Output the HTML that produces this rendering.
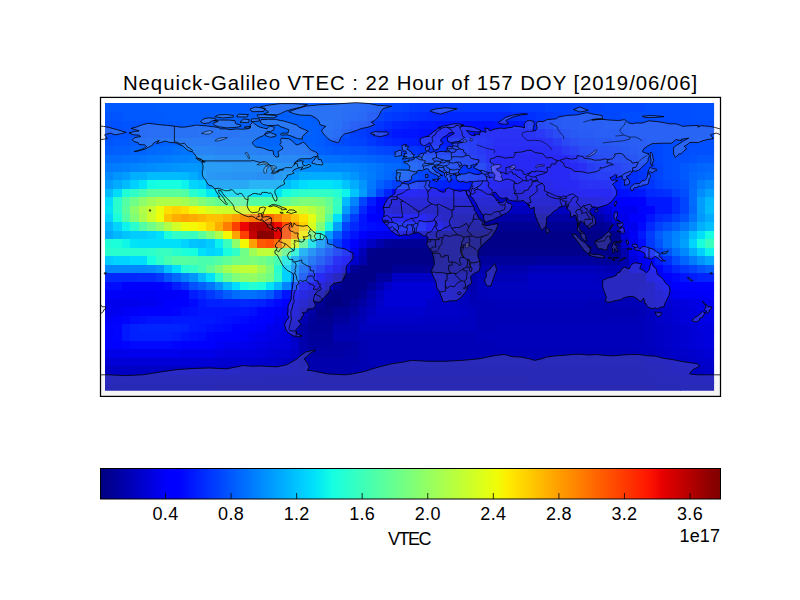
<!DOCTYPE html>
<html><head><meta charset="utf-8"><title>Nequick-Galileo VTEC</title>
<style>
html,body{margin:0;padding:0;background:#fff;}
body{width:800px;height:600px;position:relative;overflow:hidden;font-family:"Liberation Sans",sans-serif;color:#000;}
svg{position:absolute;left:0;top:0;}
.t{position:absolute;white-space:nowrap;line-height:1;}
.title{left:0;width:821px;top:73.3px;text-align:center;font-size:20.4px;letter-spacing:0.94px;}
.tick{width:60px;text-align:center;top:504.9px;font-size:18px;letter-spacing:0.3px;}
.lab{left:379px;width:60px;text-align:center;top:529.7px;font-size:18px;letter-spacing:-1.5px;}
.exp{left:640px;width:80px;text-align:right;top:526.7px;font-size:18px;letter-spacing:0.1px;}
</style></head><body>
<svg width="800" height="600" viewBox="0 0 800 600">
<defs><linearGradient id="jet" x1="0" x2="1" y1="0" y2="0"><stop offset="0.0000" stop-color="#000080"/><stop offset="0.0156" stop-color="#000092"/><stop offset="0.0312" stop-color="#0000a4"/><stop offset="0.0469" stop-color="#0000b6"/><stop offset="0.0625" stop-color="#0000c8"/><stop offset="0.0781" stop-color="#0000da"/><stop offset="0.0938" stop-color="#0000ed"/><stop offset="0.1094" stop-color="#0000ff"/><stop offset="0.1250" stop-color="#0000ff"/><stop offset="0.1406" stop-color="#0010ff"/><stop offset="0.1562" stop-color="#0020ff"/><stop offset="0.1719" stop-color="#0030ff"/><stop offset="0.1875" stop-color="#0040ff"/><stop offset="0.2031" stop-color="#0050ff"/><stop offset="0.2188" stop-color="#0060ff"/><stop offset="0.2344" stop-color="#0070ff"/><stop offset="0.2500" stop-color="#0080ff"/><stop offset="0.2656" stop-color="#0090ff"/><stop offset="0.2812" stop-color="#00a0ff"/><stop offset="0.2969" stop-color="#00b0ff"/><stop offset="0.3125" stop-color="#00c0ff"/><stop offset="0.3281" stop-color="#00d0ff"/><stop offset="0.3438" stop-color="#00e0fb"/><stop offset="0.3594" stop-color="#09f0ee"/><stop offset="0.3750" stop-color="#16ffe1"/><stop offset="0.3906" stop-color="#23ffd4"/><stop offset="0.4062" stop-color="#30ffc7"/><stop offset="0.4219" stop-color="#3cffba"/><stop offset="0.4375" stop-color="#49ffad"/><stop offset="0.4531" stop-color="#56ffa0"/><stop offset="0.4688" stop-color="#63ff94"/><stop offset="0.4844" stop-color="#70ff87"/><stop offset="0.5000" stop-color="#7dff7a"/><stop offset="0.5156" stop-color="#8aff6d"/><stop offset="0.5312" stop-color="#97ff60"/><stop offset="0.5469" stop-color="#a4ff53"/><stop offset="0.5625" stop-color="#b1ff46"/><stop offset="0.5781" stop-color="#beff39"/><stop offset="0.5938" stop-color="#caff2c"/><stop offset="0.6094" stop-color="#d7ff1f"/><stop offset="0.6250" stop-color="#e4ff13"/><stop offset="0.6406" stop-color="#f1fc06"/><stop offset="0.6562" stop-color="#feed00"/><stop offset="0.6719" stop-color="#ffde00"/><stop offset="0.6875" stop-color="#ffd000"/><stop offset="0.7031" stop-color="#ffc100"/><stop offset="0.7188" stop-color="#ffb200"/><stop offset="0.7344" stop-color="#ffa300"/><stop offset="0.7500" stop-color="#ff9400"/><stop offset="0.7656" stop-color="#ff8600"/><stop offset="0.7812" stop-color="#ff7700"/><stop offset="0.7969" stop-color="#ff6800"/><stop offset="0.8125" stop-color="#ff5900"/><stop offset="0.8281" stop-color="#ff4a00"/><stop offset="0.8438" stop-color="#ff3b00"/><stop offset="0.8594" stop-color="#ff2d00"/><stop offset="0.8750" stop-color="#ff1e00"/><stop offset="0.8906" stop-color="#fa0f00"/><stop offset="0.9062" stop-color="#e80000"/><stop offset="0.9219" stop-color="#d60000"/><stop offset="0.9375" stop-color="#c40000"/><stop offset="0.9531" stop-color="#b20000"/><stop offset="0.9688" stop-color="#9f0000"/><stop offset="0.9844" stop-color="#8d0000"/><stop offset="1.0000" stop-color="#800000"/></linearGradient>
<clipPath id="ax"><rect x="100.5" y="97.25" width="620" height="299"/></clipPath>
<clipPath id="hm"><rect x="105" y="102.9" width="609.1" height="287.85"/></clipPath>
</defs>
<rect x="0" y="0" width="800" height="600" fill="#fff"/>
<g shape-rendering="crispEdges" clip-path="url(#hm)">
<rect x="105.00" y="102.90" width="51.06" height="10.06" fill="#0058ff"/>
<rect x="155.56" y="102.90" width="186.62" height="10.06" fill="#005cff"/>
<rect x="341.68" y="102.90" width="17.42" height="10.06" fill="#0058ff"/>
<rect x="358.60" y="102.90" width="8.96" height="10.06" fill="#0054ff"/>
<rect x="367.06" y="102.90" width="8.96" height="10.06" fill="#0050ff"/>
<rect x="375.52" y="102.90" width="8.96" height="10.06" fill="#004cff"/>
<rect x="383.98" y="102.90" width="8.96" height="10.06" fill="#0048ff"/>
<rect x="392.44" y="102.90" width="8.96" height="10.06" fill="#0044ff"/>
<rect x="400.90" y="102.90" width="8.96" height="10.06" fill="#0040ff"/>
<rect x="409.36" y="102.90" width="8.96" height="10.06" fill="#003cff"/>
<rect x="417.82" y="102.90" width="93.56" height="10.06" fill="#0038ff"/>
<rect x="510.88" y="102.90" width="34.34" height="10.06" fill="#003cff"/>
<rect x="544.72" y="102.90" width="25.88" height="10.06" fill="#0040ff"/>
<rect x="570.10" y="102.90" width="34.34" height="10.06" fill="#0044ff"/>
<rect x="603.94" y="102.90" width="42.80" height="10.06" fill="#0048ff"/>
<rect x="646.24" y="102.90" width="42.80" height="10.06" fill="#004cff"/>
<rect x="688.54" y="102.90" width="25.96" height="10.06" fill="#0050ff"/>
<rect x="105.00" y="112.46" width="17.22" height="8.96" fill="#0054ff"/>
<rect x="121.72" y="112.46" width="42.80" height="8.96" fill="#0058ff"/>
<rect x="164.02" y="112.46" width="51.26" height="8.96" fill="#005cff"/>
<rect x="214.78" y="112.46" width="51.26" height="8.96" fill="#0060ff"/>
<rect x="265.54" y="112.46" width="8.96" height="8.96" fill="#0064ff"/>
<rect x="274.00" y="112.46" width="34.34" height="8.96" fill="#0060ff"/>
<rect x="307.84" y="112.46" width="34.34" height="8.96" fill="#005cff"/>
<rect x="341.68" y="112.46" width="8.96" height="8.96" fill="#0058ff"/>
<rect x="350.14" y="112.46" width="8.96" height="8.96" fill="#0054ff"/>
<rect x="358.60" y="112.46" width="8.96" height="8.96" fill="#0050ff"/>
<rect x="367.06" y="112.46" width="8.96" height="8.96" fill="#0048ff"/>
<rect x="375.52" y="112.46" width="8.96" height="8.96" fill="#0044ff"/>
<rect x="383.98" y="112.46" width="8.96" height="8.96" fill="#003cff"/>
<rect x="392.44" y="112.46" width="8.96" height="8.96" fill="#0038ff"/>
<rect x="400.90" y="112.46" width="8.96" height="8.96" fill="#0034ff"/>
<rect x="409.36" y="112.46" width="8.96" height="8.96" fill="#0030ff"/>
<rect x="417.82" y="112.46" width="8.96" height="8.96" fill="#002cff"/>
<rect x="426.28" y="112.46" width="85.10" height="8.96" fill="#0028ff"/>
<rect x="510.88" y="112.46" width="17.42" height="8.96" fill="#002cff"/>
<rect x="527.80" y="112.46" width="8.96" height="8.96" fill="#0030ff"/>
<rect x="536.26" y="112.46" width="8.96" height="8.96" fill="#0034ff"/>
<rect x="544.72" y="112.46" width="8.96" height="8.96" fill="#0038ff"/>
<rect x="553.18" y="112.46" width="8.96" height="8.96" fill="#003cff"/>
<rect x="561.64" y="112.46" width="17.42" height="8.96" fill="#0040ff"/>
<rect x="578.56" y="112.46" width="17.42" height="8.96" fill="#0044ff"/>
<rect x="595.48" y="112.46" width="25.88" height="8.96" fill="#0048ff"/>
<rect x="620.86" y="112.46" width="68.18" height="8.96" fill="#004cff"/>
<rect x="688.54" y="112.46" width="25.96" height="8.96" fill="#0050ff"/>
<rect x="105.00" y="120.92" width="17.22" height="8.96" fill="#0050ff"/>
<rect x="121.72" y="120.92" width="34.34" height="8.96" fill="#0054ff"/>
<rect x="155.56" y="120.92" width="25.88" height="8.96" fill="#0058ff"/>
<rect x="180.94" y="120.92" width="34.34" height="8.96" fill="#005cff"/>
<rect x="214.78" y="120.92" width="34.34" height="8.96" fill="#0060ff"/>
<rect x="248.62" y="120.92" width="42.80" height="8.96" fill="#0064ff"/>
<rect x="290.92" y="120.92" width="42.80" height="8.96" fill="#0060ff"/>
<rect x="333.22" y="120.92" width="8.96" height="8.96" fill="#005cff"/>
<rect x="341.68" y="120.92" width="8.96" height="8.96" fill="#0050ff"/>
<rect x="350.14" y="120.92" width="8.96" height="8.96" fill="#0048ff"/>
<rect x="358.60" y="120.92" width="8.96" height="8.96" fill="#0044ff"/>
<rect x="367.06" y="120.92" width="8.96" height="8.96" fill="#003cff"/>
<rect x="375.52" y="120.92" width="8.96" height="8.96" fill="#0034ff"/>
<rect x="383.98" y="120.92" width="8.96" height="8.96" fill="#002cff"/>
<rect x="392.44" y="120.92" width="8.96" height="8.96" fill="#0024ff"/>
<rect x="400.90" y="120.92" width="8.96" height="8.96" fill="#0020ff"/>
<rect x="409.36" y="120.92" width="8.96" height="8.96" fill="#001cff"/>
<rect x="417.82" y="120.92" width="17.42" height="8.96" fill="#0018ff"/>
<rect x="434.74" y="120.92" width="25.88" height="8.96" fill="#0014ff"/>
<rect x="460.12" y="120.92" width="34.34" height="8.96" fill="#0010ff"/>
<rect x="493.96" y="120.92" width="25.88" height="8.96" fill="#0014ff"/>
<rect x="519.34" y="120.92" width="8.96" height="8.96" fill="#0018ff"/>
<rect x="527.80" y="120.92" width="8.96" height="8.96" fill="#0020ff"/>
<rect x="536.26" y="120.92" width="8.96" height="8.96" fill="#002cff"/>
<rect x="544.72" y="120.92" width="8.96" height="8.96" fill="#0034ff"/>
<rect x="553.18" y="120.92" width="8.96" height="8.96" fill="#003cff"/>
<rect x="561.64" y="120.92" width="17.42" height="8.96" fill="#0040ff"/>
<rect x="578.56" y="120.92" width="25.88" height="8.96" fill="#0044ff"/>
<rect x="603.94" y="120.92" width="76.64" height="8.96" fill="#0048ff"/>
<rect x="680.08" y="120.92" width="34.42" height="8.96" fill="#004cff"/>
<rect x="105.00" y="129.38" width="8.76" height="8.96" fill="#0050ff"/>
<rect x="113.26" y="129.38" width="34.34" height="8.96" fill="#0054ff"/>
<rect x="147.10" y="129.38" width="25.88" height="8.96" fill="#0058ff"/>
<rect x="172.48" y="129.38" width="25.88" height="8.96" fill="#005cff"/>
<rect x="197.86" y="129.38" width="42.80" height="8.96" fill="#0060ff"/>
<rect x="240.16" y="129.38" width="51.26" height="8.96" fill="#0064ff"/>
<rect x="290.92" y="129.38" width="25.88" height="8.96" fill="#0060ff"/>
<rect x="316.30" y="129.38" width="17.42" height="8.96" fill="#005cff"/>
<rect x="333.22" y="129.38" width="8.96" height="8.96" fill="#0054ff"/>
<rect x="341.68" y="129.38" width="8.96" height="8.96" fill="#004cff"/>
<rect x="350.14" y="129.38" width="8.96" height="8.96" fill="#0040ff"/>
<rect x="358.60" y="129.38" width="8.96" height="8.96" fill="#003cff"/>
<rect x="367.06" y="129.38" width="8.96" height="8.96" fill="#0034ff"/>
<rect x="375.52" y="129.38" width="8.96" height="8.96" fill="#002cff"/>
<rect x="383.98" y="129.38" width="8.96" height="8.96" fill="#0020ff"/>
<rect x="392.44" y="129.38" width="8.96" height="8.96" fill="#0018ff"/>
<rect x="400.90" y="129.38" width="17.42" height="8.96" fill="#0014ff"/>
<rect x="417.82" y="129.38" width="17.42" height="8.96" fill="#0010ff"/>
<rect x="434.74" y="129.38" width="17.42" height="8.96" fill="#000cff"/>
<rect x="451.66" y="129.38" width="34.34" height="8.96" fill="#0010ff"/>
<rect x="485.50" y="129.38" width="42.80" height="8.96" fill="#000cff"/>
<rect x="527.80" y="129.38" width="8.96" height="8.96" fill="#0010ff"/>
<rect x="536.26" y="129.38" width="8.96" height="8.96" fill="#0014ff"/>
<rect x="544.72" y="129.38" width="8.96" height="8.96" fill="#0020ff"/>
<rect x="553.18" y="129.38" width="8.96" height="8.96" fill="#002cff"/>
<rect x="561.64" y="129.38" width="8.96" height="8.96" fill="#0038ff"/>
<rect x="570.10" y="129.38" width="8.96" height="8.96" fill="#003cff"/>
<rect x="578.56" y="129.38" width="17.42" height="8.96" fill="#0040ff"/>
<rect x="595.48" y="129.38" width="34.34" height="8.96" fill="#0044ff"/>
<rect x="629.32" y="129.38" width="51.26" height="8.96" fill="#0048ff"/>
<rect x="680.08" y="129.38" width="34.42" height="8.96" fill="#004cff"/>
<rect x="105.00" y="137.84" width="8.76" height="8.96" fill="#0054ff"/>
<rect x="113.26" y="137.84" width="17.42" height="8.96" fill="#0058ff"/>
<rect x="130.18" y="137.84" width="17.42" height="8.96" fill="#005cff"/>
<rect x="147.10" y="137.84" width="17.42" height="8.96" fill="#0060ff"/>
<rect x="164.02" y="137.84" width="17.42" height="8.96" fill="#0064ff"/>
<rect x="180.94" y="137.84" width="76.64" height="8.96" fill="#0068ff"/>
<rect x="257.08" y="137.84" width="42.80" height="8.96" fill="#0064ff"/>
<rect x="299.38" y="137.84" width="17.42" height="8.96" fill="#0060ff"/>
<rect x="316.30" y="137.84" width="8.96" height="8.96" fill="#005cff"/>
<rect x="324.76" y="137.84" width="8.96" height="8.96" fill="#0054ff"/>
<rect x="333.22" y="137.84" width="8.96" height="8.96" fill="#004cff"/>
<rect x="341.68" y="137.84" width="8.96" height="8.96" fill="#0048ff"/>
<rect x="350.14" y="137.84" width="8.96" height="8.96" fill="#0044ff"/>
<rect x="358.60" y="137.84" width="8.96" height="8.96" fill="#0040ff"/>
<rect x="367.06" y="137.84" width="8.96" height="8.96" fill="#0038ff"/>
<rect x="375.52" y="137.84" width="8.96" height="8.96" fill="#0030ff"/>
<rect x="383.98" y="137.84" width="8.96" height="8.96" fill="#0028ff"/>
<rect x="392.44" y="137.84" width="8.96" height="8.96" fill="#0024ff"/>
<rect x="400.90" y="137.84" width="8.96" height="8.96" fill="#0020ff"/>
<rect x="409.36" y="137.84" width="8.96" height="8.96" fill="#001cff"/>
<rect x="417.82" y="137.84" width="25.88" height="8.96" fill="#0018ff"/>
<rect x="443.20" y="137.84" width="8.96" height="8.96" fill="#001cff"/>
<rect x="451.66" y="137.84" width="17.42" height="8.96" fill="#0020ff"/>
<rect x="468.58" y="137.84" width="8.96" height="8.96" fill="#001cff"/>
<rect x="477.04" y="137.84" width="8.96" height="8.96" fill="#0014ff"/>
<rect x="485.50" y="137.84" width="8.96" height="8.96" fill="#0010ff"/>
<rect x="493.96" y="137.84" width="51.26" height="8.96" fill="#0008ff"/>
<rect x="544.72" y="137.84" width="8.96" height="8.96" fill="#000cff"/>
<rect x="553.18" y="137.84" width="8.96" height="8.96" fill="#0018ff"/>
<rect x="561.64" y="137.84" width="8.96" height="8.96" fill="#0028ff"/>
<rect x="570.10" y="137.84" width="8.96" height="8.96" fill="#0030ff"/>
<rect x="578.56" y="137.84" width="17.42" height="8.96" fill="#0038ff"/>
<rect x="595.48" y="137.84" width="17.42" height="8.96" fill="#003cff"/>
<rect x="612.40" y="137.84" width="17.42" height="8.96" fill="#0040ff"/>
<rect x="629.32" y="137.84" width="17.42" height="8.96" fill="#0044ff"/>
<rect x="646.24" y="137.84" width="17.42" height="8.96" fill="#0048ff"/>
<rect x="663.16" y="137.84" width="34.34" height="8.96" fill="#004cff"/>
<rect x="697.00" y="137.84" width="17.50" height="8.96" fill="#0050ff"/>
<rect x="105.00" y="146.30" width="8.76" height="8.96" fill="#005cff"/>
<rect x="113.26" y="146.30" width="17.42" height="8.96" fill="#0060ff"/>
<rect x="130.18" y="146.30" width="17.42" height="8.96" fill="#0064ff"/>
<rect x="147.10" y="146.30" width="8.96" height="8.96" fill="#0068ff"/>
<rect x="155.56" y="146.30" width="17.42" height="8.96" fill="#006cff"/>
<rect x="172.48" y="146.30" width="8.96" height="8.96" fill="#0070ff"/>
<rect x="180.94" y="146.30" width="34.34" height="8.96" fill="#0074ff"/>
<rect x="214.78" y="146.30" width="42.80" height="8.96" fill="#0070ff"/>
<rect x="257.08" y="146.30" width="25.88" height="8.96" fill="#006cff"/>
<rect x="282.46" y="146.30" width="25.88" height="8.96" fill="#0068ff"/>
<rect x="307.84" y="146.30" width="8.96" height="8.96" fill="#0064ff"/>
<rect x="316.30" y="146.30" width="8.96" height="8.96" fill="#0060ff"/>
<rect x="324.76" y="146.30" width="8.96" height="8.96" fill="#005cff"/>
<rect x="333.22" y="146.30" width="17.42" height="8.96" fill="#0058ff"/>
<rect x="350.14" y="146.30" width="17.42" height="8.96" fill="#0054ff"/>
<rect x="367.06" y="146.30" width="8.96" height="8.96" fill="#004cff"/>
<rect x="375.52" y="146.30" width="8.96" height="8.96" fill="#0048ff"/>
<rect x="383.98" y="146.30" width="8.96" height="8.96" fill="#0044ff"/>
<rect x="392.44" y="146.30" width="8.96" height="8.96" fill="#0040ff"/>
<rect x="400.90" y="146.30" width="8.96" height="8.96" fill="#003cff"/>
<rect x="409.36" y="146.30" width="8.96" height="8.96" fill="#0034ff"/>
<rect x="417.82" y="146.30" width="8.96" height="8.96" fill="#0030ff"/>
<rect x="426.28" y="146.30" width="8.96" height="8.96" fill="#002cff"/>
<rect x="434.74" y="146.30" width="25.88" height="8.96" fill="#0028ff"/>
<rect x="460.12" y="146.30" width="8.96" height="8.96" fill="#0024ff"/>
<rect x="468.58" y="146.30" width="8.96" height="8.96" fill="#001cff"/>
<rect x="477.04" y="146.30" width="8.96" height="8.96" fill="#0014ff"/>
<rect x="485.50" y="146.30" width="8.96" height="8.96" fill="#000cff"/>
<rect x="493.96" y="146.30" width="59.72" height="8.96" fill="#0004ff"/>
<rect x="553.18" y="146.30" width="8.96" height="8.96" fill="#0008ff"/>
<rect x="561.64" y="146.30" width="8.96" height="8.96" fill="#0014ff"/>
<rect x="570.10" y="146.30" width="8.96" height="8.96" fill="#0020ff"/>
<rect x="578.56" y="146.30" width="8.96" height="8.96" fill="#002cff"/>
<rect x="587.02" y="146.30" width="8.96" height="8.96" fill="#0030ff"/>
<rect x="595.48" y="146.30" width="17.42" height="8.96" fill="#0034ff"/>
<rect x="612.40" y="146.30" width="8.96" height="8.96" fill="#0038ff"/>
<rect x="620.86" y="146.30" width="8.96" height="8.96" fill="#003cff"/>
<rect x="629.32" y="146.30" width="8.96" height="8.96" fill="#0040ff"/>
<rect x="637.78" y="146.30" width="8.96" height="8.96" fill="#0044ff"/>
<rect x="646.24" y="146.30" width="17.42" height="8.96" fill="#0048ff"/>
<rect x="663.16" y="146.30" width="25.88" height="8.96" fill="#004cff"/>
<rect x="688.54" y="146.30" width="25.96" height="8.96" fill="#0050ff"/>
<rect x="105.00" y="154.76" width="17.22" height="8.96" fill="#006cff"/>
<rect x="121.72" y="154.76" width="17.42" height="8.96" fill="#0070ff"/>
<rect x="138.64" y="154.76" width="8.96" height="8.96" fill="#0074ff"/>
<rect x="147.10" y="154.76" width="17.42" height="8.96" fill="#0078ff"/>
<rect x="164.02" y="154.76" width="8.96" height="8.96" fill="#007cff"/>
<rect x="172.48" y="154.76" width="17.42" height="8.96" fill="#0080ff"/>
<rect x="189.40" y="154.76" width="25.88" height="8.96" fill="#0084ff"/>
<rect x="214.78" y="154.76" width="42.80" height="8.96" fill="#0080ff"/>
<rect x="257.08" y="154.76" width="25.88" height="8.96" fill="#007cff"/>
<rect x="282.46" y="154.76" width="25.88" height="8.96" fill="#0078ff"/>
<rect x="307.84" y="154.76" width="17.42" height="8.96" fill="#0074ff"/>
<rect x="324.76" y="154.76" width="17.42" height="8.96" fill="#0070ff"/>
<rect x="341.68" y="154.76" width="17.42" height="8.96" fill="#006cff"/>
<rect x="358.60" y="154.76" width="8.96" height="8.96" fill="#0068ff"/>
<rect x="367.06" y="154.76" width="8.96" height="8.96" fill="#0064ff"/>
<rect x="375.52" y="154.76" width="8.96" height="8.96" fill="#0060ff"/>
<rect x="383.98" y="154.76" width="17.42" height="8.96" fill="#005cff"/>
<rect x="400.90" y="154.76" width="8.96" height="8.96" fill="#0054ff"/>
<rect x="409.36" y="154.76" width="8.96" height="8.96" fill="#004cff"/>
<rect x="417.82" y="154.76" width="8.96" height="8.96" fill="#0044ff"/>
<rect x="426.28" y="154.76" width="8.96" height="8.96" fill="#003cff"/>
<rect x="434.74" y="154.76" width="17.42" height="8.96" fill="#0038ff"/>
<rect x="451.66" y="154.76" width="8.96" height="8.96" fill="#0034ff"/>
<rect x="460.12" y="154.76" width="8.96" height="8.96" fill="#002cff"/>
<rect x="468.58" y="154.76" width="8.96" height="8.96" fill="#0024ff"/>
<rect x="477.04" y="154.76" width="8.96" height="8.96" fill="#001cff"/>
<rect x="485.50" y="154.76" width="8.96" height="8.96" fill="#000cff"/>
<rect x="493.96" y="154.76" width="76.64" height="8.96" fill="#0000ff"/>
<rect x="570.10" y="154.76" width="8.96" height="8.96" fill="#000cff"/>
<rect x="578.56" y="154.76" width="8.96" height="8.96" fill="#001cff"/>
<rect x="587.02" y="154.76" width="8.96" height="8.96" fill="#0028ff"/>
<rect x="595.48" y="154.76" width="8.96" height="8.96" fill="#002cff"/>
<rect x="603.94" y="154.76" width="17.42" height="8.96" fill="#0030ff"/>
<rect x="620.86" y="154.76" width="8.96" height="8.96" fill="#0034ff"/>
<rect x="629.32" y="154.76" width="8.96" height="8.96" fill="#0038ff"/>
<rect x="637.78" y="154.76" width="8.96" height="8.96" fill="#0040ff"/>
<rect x="646.24" y="154.76" width="8.96" height="8.96" fill="#0044ff"/>
<rect x="654.70" y="154.76" width="8.96" height="8.96" fill="#0048ff"/>
<rect x="663.16" y="154.76" width="8.96" height="8.96" fill="#004cff"/>
<rect x="671.62" y="154.76" width="17.42" height="8.96" fill="#0050ff"/>
<rect x="688.54" y="154.76" width="8.96" height="8.96" fill="#0054ff"/>
<rect x="697.00" y="154.76" width="17.50" height="8.96" fill="#0058ff"/>
<rect x="105.00" y="163.22" width="8.76" height="8.96" fill="#0078ff"/>
<rect x="113.26" y="163.22" width="8.96" height="8.96" fill="#007cff"/>
<rect x="121.72" y="163.22" width="8.96" height="8.96" fill="#0080ff"/>
<rect x="130.18" y="163.22" width="8.96" height="8.96" fill="#0084ff"/>
<rect x="138.64" y="163.22" width="8.96" height="8.96" fill="#0088ff"/>
<rect x="147.10" y="163.22" width="8.96" height="8.96" fill="#008cff"/>
<rect x="155.56" y="163.22" width="17.42" height="8.96" fill="#0090ff"/>
<rect x="172.48" y="163.22" width="8.96" height="8.96" fill="#0094ff"/>
<rect x="180.94" y="163.22" width="17.42" height="8.96" fill="#0098ff"/>
<rect x="197.86" y="163.22" width="8.96" height="8.96" fill="#0094ff"/>
<rect x="206.32" y="163.22" width="25.88" height="8.96" fill="#0090ff"/>
<rect x="231.70" y="163.22" width="34.34" height="8.96" fill="#008cff"/>
<rect x="265.54" y="163.22" width="34.34" height="8.96" fill="#0088ff"/>
<rect x="299.38" y="163.22" width="25.88" height="8.96" fill="#008cff"/>
<rect x="324.76" y="163.22" width="25.88" height="8.96" fill="#0088ff"/>
<rect x="350.14" y="163.22" width="8.96" height="8.96" fill="#0084ff"/>
<rect x="358.60" y="163.22" width="8.96" height="8.96" fill="#0080ff"/>
<rect x="367.06" y="163.22" width="8.96" height="8.96" fill="#0078ff"/>
<rect x="375.52" y="163.22" width="8.96" height="8.96" fill="#0074ff"/>
<rect x="383.98" y="163.22" width="8.96" height="8.96" fill="#006cff"/>
<rect x="392.44" y="163.22" width="8.96" height="8.96" fill="#0068ff"/>
<rect x="400.90" y="163.22" width="8.96" height="8.96" fill="#0060ff"/>
<rect x="409.36" y="163.22" width="8.96" height="8.96" fill="#0054ff"/>
<rect x="417.82" y="163.22" width="8.96" height="8.96" fill="#004cff"/>
<rect x="426.28" y="163.22" width="8.96" height="8.96" fill="#0048ff"/>
<rect x="434.74" y="163.22" width="8.96" height="8.96" fill="#0040ff"/>
<rect x="443.20" y="163.22" width="8.96" height="8.96" fill="#003cff"/>
<rect x="451.66" y="163.22" width="8.96" height="8.96" fill="#0038ff"/>
<rect x="460.12" y="163.22" width="8.96" height="8.96" fill="#0034ff"/>
<rect x="468.58" y="163.22" width="8.96" height="8.96" fill="#0030ff"/>
<rect x="477.04" y="163.22" width="8.96" height="8.96" fill="#002cff"/>
<rect x="485.50" y="163.22" width="8.96" height="8.96" fill="#0018ff"/>
<rect x="493.96" y="163.22" width="85.10" height="8.96" fill="#0000ff"/>
<rect x="578.56" y="163.22" width="8.96" height="8.96" fill="#0008ff"/>
<rect x="587.02" y="163.22" width="8.96" height="8.96" fill="#0018ff"/>
<rect x="595.48" y="163.22" width="8.96" height="8.96" fill="#0020ff"/>
<rect x="603.94" y="163.22" width="17.42" height="8.96" fill="#0024ff"/>
<rect x="620.86" y="163.22" width="8.96" height="8.96" fill="#002cff"/>
<rect x="629.32" y="163.22" width="8.96" height="8.96" fill="#0030ff"/>
<rect x="637.78" y="163.22" width="8.96" height="8.96" fill="#0038ff"/>
<rect x="646.24" y="163.22" width="8.96" height="8.96" fill="#003cff"/>
<rect x="654.70" y="163.22" width="8.96" height="8.96" fill="#0044ff"/>
<rect x="663.16" y="163.22" width="8.96" height="8.96" fill="#004cff"/>
<rect x="671.62" y="163.22" width="8.96" height="8.96" fill="#0050ff"/>
<rect x="680.08" y="163.22" width="8.96" height="8.96" fill="#0058ff"/>
<rect x="688.54" y="163.22" width="8.96" height="8.96" fill="#0060ff"/>
<rect x="697.00" y="163.22" width="8.96" height="8.96" fill="#0064ff"/>
<rect x="705.46" y="163.22" width="9.04" height="8.96" fill="#0068ff"/>
<rect x="105.00" y="171.68" width="8.76" height="8.96" fill="#0088ff"/>
<rect x="113.26" y="171.68" width="8.96" height="8.96" fill="#0094ff"/>
<rect x="121.72" y="171.68" width="8.96" height="8.96" fill="#009cff"/>
<rect x="130.18" y="171.68" width="17.42" height="8.96" fill="#00b0ff"/>
<rect x="147.10" y="171.68" width="34.34" height="8.96" fill="#00bcff"/>
<rect x="180.94" y="171.68" width="8.96" height="8.96" fill="#00b8ff"/>
<rect x="189.40" y="171.68" width="8.96" height="8.96" fill="#00acff"/>
<rect x="197.86" y="171.68" width="8.96" height="8.96" fill="#009cff"/>
<rect x="206.32" y="171.68" width="8.96" height="8.96" fill="#008cff"/>
<rect x="214.78" y="171.68" width="17.42" height="8.96" fill="#0088ff"/>
<rect x="231.70" y="171.68" width="25.88" height="8.96" fill="#0084ff"/>
<rect x="257.08" y="171.68" width="17.42" height="8.96" fill="#0080ff"/>
<rect x="274.00" y="171.68" width="8.96" height="8.96" fill="#008cff"/>
<rect x="282.46" y="171.68" width="8.96" height="8.96" fill="#0094ff"/>
<rect x="290.92" y="171.68" width="8.96" height="8.96" fill="#009cff"/>
<rect x="299.38" y="171.68" width="42.80" height="8.96" fill="#00acff"/>
<rect x="341.68" y="171.68" width="8.96" height="8.96" fill="#00a0ff"/>
<rect x="350.14" y="171.68" width="8.96" height="8.96" fill="#0094ff"/>
<rect x="358.60" y="171.68" width="8.96" height="8.96" fill="#0084ff"/>
<rect x="367.06" y="171.68" width="8.96" height="8.96" fill="#007cff"/>
<rect x="375.52" y="171.68" width="8.96" height="8.96" fill="#0070ff"/>
<rect x="383.98" y="171.68" width="8.96" height="8.96" fill="#0068ff"/>
<rect x="392.44" y="171.68" width="8.96" height="8.96" fill="#0060ff"/>
<rect x="400.90" y="171.68" width="8.96" height="8.96" fill="#0054ff"/>
<rect x="409.36" y="171.68" width="8.96" height="8.96" fill="#004cff"/>
<rect x="417.82" y="171.68" width="8.96" height="8.96" fill="#0044ff"/>
<rect x="426.28" y="171.68" width="17.42" height="8.96" fill="#0040ff"/>
<rect x="443.20" y="171.68" width="8.96" height="8.96" fill="#003cff"/>
<rect x="451.66" y="171.68" width="8.96" height="8.96" fill="#0038ff"/>
<rect x="460.12" y="171.68" width="8.96" height="8.96" fill="#0034ff"/>
<rect x="468.58" y="171.68" width="8.96" height="8.96" fill="#002cff"/>
<rect x="477.04" y="171.68" width="8.96" height="8.96" fill="#0024ff"/>
<rect x="485.50" y="171.68" width="8.96" height="8.96" fill="#0014ff"/>
<rect x="493.96" y="171.68" width="76.64" height="8.96" fill="#0000ff"/>
<rect x="570.10" y="171.68" width="8.96" height="8.96" fill="#000cff"/>
<rect x="578.56" y="171.68" width="8.96" height="8.96" fill="#0014ff"/>
<rect x="587.02" y="171.68" width="8.96" height="8.96" fill="#0018ff"/>
<rect x="595.48" y="171.68" width="17.42" height="8.96" fill="#001cff"/>
<rect x="612.40" y="171.68" width="8.96" height="8.96" fill="#0020ff"/>
<rect x="620.86" y="171.68" width="8.96" height="8.96" fill="#0028ff"/>
<rect x="629.32" y="171.68" width="8.96" height="8.96" fill="#0030ff"/>
<rect x="637.78" y="171.68" width="8.96" height="8.96" fill="#0034ff"/>
<rect x="646.24" y="171.68" width="8.96" height="8.96" fill="#003cff"/>
<rect x="654.70" y="171.68" width="8.96" height="8.96" fill="#0044ff"/>
<rect x="663.16" y="171.68" width="8.96" height="8.96" fill="#004cff"/>
<rect x="671.62" y="171.68" width="8.96" height="8.96" fill="#0050ff"/>
<rect x="680.08" y="171.68" width="8.96" height="8.96" fill="#0058ff"/>
<rect x="688.54" y="171.68" width="8.96" height="8.96" fill="#0064ff"/>
<rect x="697.00" y="171.68" width="8.96" height="8.96" fill="#006cff"/>
<rect x="705.46" y="171.68" width="9.04" height="8.96" fill="#0070ff"/>
<rect x="105.00" y="180.14" width="8.76" height="8.96" fill="#009cff"/>
<rect x="113.26" y="180.14" width="8.96" height="8.96" fill="#00acff"/>
<rect x="121.72" y="180.14" width="8.96" height="8.96" fill="#00bcff"/>
<rect x="130.18" y="180.14" width="8.96" height="8.96" fill="#00d0ff"/>
<rect x="138.64" y="180.14" width="8.96" height="8.96" fill="#00e4f8"/>
<rect x="147.10" y="180.14" width="8.96" height="8.96" fill="#13fce4"/>
<rect x="155.56" y="180.14" width="25.88" height="8.96" fill="#16ffe1"/>
<rect x="180.94" y="180.14" width="8.96" height="8.96" fill="#0cf4eb"/>
<rect x="189.40" y="180.14" width="8.96" height="8.96" fill="#00d4ff"/>
<rect x="197.86" y="180.14" width="8.96" height="8.96" fill="#00ccff"/>
<rect x="206.32" y="180.14" width="42.80" height="8.96" fill="#00a0ff"/>
<rect x="248.62" y="180.14" width="34.34" height="8.96" fill="#00b0ff"/>
<rect x="282.46" y="180.14" width="8.96" height="8.96" fill="#00bcff"/>
<rect x="290.92" y="180.14" width="8.96" height="8.96" fill="#00ccff"/>
<rect x="299.38" y="180.14" width="8.96" height="8.96" fill="#00dcfe"/>
<rect x="307.84" y="180.14" width="25.88" height="8.96" fill="#00e4f8"/>
<rect x="333.22" y="180.14" width="8.96" height="8.96" fill="#00dcfe"/>
<rect x="341.68" y="180.14" width="8.96" height="8.96" fill="#00c4ff"/>
<rect x="350.14" y="180.14" width="8.96" height="8.96" fill="#00acff"/>
<rect x="358.60" y="180.14" width="8.96" height="8.96" fill="#0094ff"/>
<rect x="367.06" y="180.14" width="8.96" height="8.96" fill="#0078ff"/>
<rect x="375.52" y="180.14" width="8.96" height="8.96" fill="#0060ff"/>
<rect x="383.98" y="180.14" width="8.96" height="8.96" fill="#0050ff"/>
<rect x="392.44" y="180.14" width="8.96" height="8.96" fill="#0040ff"/>
<rect x="400.90" y="180.14" width="8.96" height="8.96" fill="#0034ff"/>
<rect x="409.36" y="180.14" width="8.96" height="8.96" fill="#0030ff"/>
<rect x="417.82" y="180.14" width="17.42" height="8.96" fill="#0028ff"/>
<rect x="434.74" y="180.14" width="8.96" height="8.96" fill="#0024ff"/>
<rect x="443.20" y="180.14" width="17.42" height="8.96" fill="#0020ff"/>
<rect x="460.12" y="180.14" width="8.96" height="8.96" fill="#001cff"/>
<rect x="468.58" y="180.14" width="8.96" height="8.96" fill="#0018ff"/>
<rect x="477.04" y="180.14" width="8.96" height="8.96" fill="#0010ff"/>
<rect x="485.50" y="180.14" width="8.96" height="8.96" fill="#0000ff"/>
<rect x="493.96" y="180.14" width="8.96" height="8.96" fill="#0000fa"/>
<rect x="502.42" y="180.14" width="8.96" height="8.96" fill="#0000f1"/>
<rect x="510.88" y="180.14" width="34.34" height="8.96" fill="#0000ed"/>
<rect x="544.72" y="180.14" width="8.96" height="8.96" fill="#0000f1"/>
<rect x="553.18" y="180.14" width="8.96" height="8.96" fill="#0000fa"/>
<rect x="561.64" y="180.14" width="17.42" height="8.96" fill="#0000ff"/>
<rect x="578.56" y="180.14" width="8.96" height="8.96" fill="#0008ff"/>
<rect x="587.02" y="180.14" width="17.42" height="8.96" fill="#000cff"/>
<rect x="603.94" y="180.14" width="8.96" height="8.96" fill="#0010ff"/>
<rect x="612.40" y="180.14" width="8.96" height="8.96" fill="#001cff"/>
<rect x="620.86" y="180.14" width="8.96" height="8.96" fill="#0028ff"/>
<rect x="629.32" y="180.14" width="8.96" height="8.96" fill="#002cff"/>
<rect x="637.78" y="180.14" width="8.96" height="8.96" fill="#0030ff"/>
<rect x="646.24" y="180.14" width="8.96" height="8.96" fill="#0034ff"/>
<rect x="654.70" y="180.14" width="8.96" height="8.96" fill="#0040ff"/>
<rect x="663.16" y="180.14" width="8.96" height="8.96" fill="#0048ff"/>
<rect x="671.62" y="180.14" width="8.96" height="8.96" fill="#004cff"/>
<rect x="680.08" y="180.14" width="8.96" height="8.96" fill="#0054ff"/>
<rect x="688.54" y="180.14" width="8.96" height="8.96" fill="#0068ff"/>
<rect x="697.00" y="180.14" width="8.96" height="8.96" fill="#007cff"/>
<rect x="705.46" y="180.14" width="9.04" height="8.96" fill="#0088ff"/>
<rect x="105.00" y="188.60" width="8.76" height="8.96" fill="#00bcff"/>
<rect x="113.26" y="188.60" width="8.96" height="8.96" fill="#00dcfe"/>
<rect x="121.72" y="188.60" width="8.96" height="8.96" fill="#1fffd7"/>
<rect x="130.18" y="188.60" width="8.96" height="8.96" fill="#30ffc7"/>
<rect x="138.64" y="188.60" width="8.96" height="8.96" fill="#46ffb1"/>
<rect x="147.10" y="188.60" width="34.34" height="8.96" fill="#5aff9d"/>
<rect x="180.94" y="188.60" width="8.96" height="8.96" fill="#53ffa4"/>
<rect x="189.40" y="188.60" width="8.96" height="8.96" fill="#29ffce"/>
<rect x="197.86" y="188.60" width="8.96" height="8.96" fill="#19ffde"/>
<rect x="206.32" y="188.60" width="8.96" height="8.96" fill="#02e8f4"/>
<rect x="214.78" y="188.60" width="25.88" height="8.96" fill="#00dcfe"/>
<rect x="240.16" y="188.60" width="25.88" height="8.96" fill="#00e0fb"/>
<rect x="265.54" y="188.60" width="17.42" height="8.96" fill="#00e4f8"/>
<rect x="282.46" y="188.60" width="8.96" height="8.96" fill="#16ffe1"/>
<rect x="290.92" y="188.60" width="8.96" height="8.96" fill="#26ffd1"/>
<rect x="299.38" y="188.60" width="8.96" height="8.96" fill="#2cffca"/>
<rect x="307.84" y="188.60" width="25.88" height="8.96" fill="#30ffc7"/>
<rect x="333.22" y="188.60" width="8.96" height="8.96" fill="#26ffd1"/>
<rect x="341.68" y="188.60" width="8.96" height="8.96" fill="#0cf4eb"/>
<rect x="350.14" y="188.60" width="8.96" height="8.96" fill="#00c4ff"/>
<rect x="358.60" y="188.60" width="8.96" height="8.96" fill="#009cff"/>
<rect x="367.06" y="188.60" width="8.96" height="8.96" fill="#0070ff"/>
<rect x="375.52" y="188.60" width="8.96" height="8.96" fill="#0044ff"/>
<rect x="383.98" y="188.60" width="8.96" height="8.96" fill="#0024ff"/>
<rect x="392.44" y="188.60" width="25.88" height="8.96" fill="#0000ff"/>
<rect x="417.82" y="188.60" width="25.88" height="8.96" fill="#0000f6"/>
<rect x="443.20" y="188.60" width="42.80" height="8.96" fill="#0000f1"/>
<rect x="485.50" y="188.60" width="8.96" height="8.96" fill="#0000ed"/>
<rect x="493.96" y="188.60" width="8.96" height="8.96" fill="#0000e3"/>
<rect x="502.42" y="188.60" width="42.80" height="8.96" fill="#0000df"/>
<rect x="544.72" y="188.60" width="8.96" height="8.96" fill="#0000e3"/>
<rect x="553.18" y="188.60" width="8.96" height="8.96" fill="#0000f1"/>
<rect x="561.64" y="188.60" width="8.96" height="8.96" fill="#0000f6"/>
<rect x="570.10" y="188.60" width="17.42" height="8.96" fill="#0000fa"/>
<rect x="587.02" y="188.60" width="25.88" height="8.96" fill="#0000ff"/>
<rect x="612.40" y="188.60" width="8.96" height="8.96" fill="#000cff"/>
<rect x="620.86" y="188.60" width="8.96" height="8.96" fill="#0010ff"/>
<rect x="629.32" y="188.60" width="8.96" height="8.96" fill="#0014ff"/>
<rect x="637.78" y="188.60" width="8.96" height="8.96" fill="#0018ff"/>
<rect x="646.24" y="188.60" width="8.96" height="8.96" fill="#0028ff"/>
<rect x="654.70" y="188.60" width="8.96" height="8.96" fill="#002cff"/>
<rect x="663.16" y="188.60" width="8.96" height="8.96" fill="#0030ff"/>
<rect x="671.62" y="188.60" width="8.96" height="8.96" fill="#0040ff"/>
<rect x="680.08" y="188.60" width="8.96" height="8.96" fill="#004cff"/>
<rect x="688.54" y="188.60" width="8.96" height="8.96" fill="#006cff"/>
<rect x="697.00" y="188.60" width="8.96" height="8.96" fill="#008cff"/>
<rect x="705.46" y="188.60" width="9.04" height="8.96" fill="#00a0ff"/>
<rect x="105.00" y="197.06" width="8.76" height="8.96" fill="#00dcfe"/>
<rect x="113.26" y="197.06" width="8.96" height="8.96" fill="#29ffce"/>
<rect x="121.72" y="197.06" width="8.96" height="8.96" fill="#53ffa4"/>
<rect x="130.18" y="197.06" width="8.96" height="8.96" fill="#70ff87"/>
<rect x="138.64" y="197.06" width="8.96" height="8.96" fill="#8dff6a"/>
<rect x="147.10" y="197.06" width="8.96" height="8.96" fill="#a0ff56"/>
<rect x="155.56" y="197.06" width="25.88" height="8.96" fill="#adff49"/>
<rect x="180.94" y="197.06" width="8.96" height="8.96" fill="#a4ff53"/>
<rect x="189.40" y="197.06" width="8.96" height="8.96" fill="#94ff63"/>
<rect x="197.86" y="197.06" width="8.96" height="8.96" fill="#80ff77"/>
<rect x="206.32" y="197.06" width="8.96" height="8.96" fill="#70ff87"/>
<rect x="214.78" y="197.06" width="8.96" height="8.96" fill="#63ff94"/>
<rect x="223.24" y="197.06" width="25.88" height="8.96" fill="#5aff9d"/>
<rect x="248.62" y="197.06" width="34.34" height="8.96" fill="#56ffa0"/>
<rect x="282.46" y="197.06" width="8.96" height="8.96" fill="#63ff94"/>
<rect x="290.92" y="197.06" width="8.96" height="8.96" fill="#73ff83"/>
<rect x="299.38" y="197.06" width="17.42" height="8.96" fill="#7dff7a"/>
<rect x="316.30" y="197.06" width="8.96" height="8.96" fill="#77ff80"/>
<rect x="324.76" y="197.06" width="8.96" height="8.96" fill="#63ff94"/>
<rect x="333.22" y="197.06" width="8.96" height="8.96" fill="#39ffbe"/>
<rect x="341.68" y="197.06" width="8.96" height="8.96" fill="#00bcff"/>
<rect x="350.14" y="197.06" width="8.96" height="8.96" fill="#0084ff"/>
<rect x="358.60" y="197.06" width="8.96" height="8.96" fill="#0044ff"/>
<rect x="367.06" y="197.06" width="8.96" height="8.96" fill="#001cff"/>
<rect x="375.52" y="197.06" width="8.96" height="8.96" fill="#0000ff"/>
<rect x="383.98" y="197.06" width="8.96" height="8.96" fill="#0000e8"/>
<rect x="392.44" y="197.06" width="17.42" height="8.96" fill="#0000df"/>
<rect x="409.36" y="197.06" width="34.34" height="8.96" fill="#0000da"/>
<rect x="443.20" y="197.06" width="51.26" height="8.96" fill="#0000d6"/>
<rect x="493.96" y="197.06" width="59.72" height="8.96" fill="#0000d1"/>
<rect x="553.18" y="197.06" width="17.42" height="8.96" fill="#0000d6"/>
<rect x="570.10" y="197.06" width="17.42" height="8.96" fill="#0000da"/>
<rect x="587.02" y="197.06" width="8.96" height="8.96" fill="#0000df"/>
<rect x="595.48" y="197.06" width="8.96" height="8.96" fill="#0000e3"/>
<rect x="603.94" y="197.06" width="8.96" height="8.96" fill="#0000ed"/>
<rect x="612.40" y="197.06" width="34.34" height="8.96" fill="#0000ff"/>
<rect x="646.24" y="197.06" width="25.88" height="8.96" fill="#0018ff"/>
<rect x="671.62" y="197.06" width="8.96" height="8.96" fill="#002cff"/>
<rect x="680.08" y="197.06" width="8.96" height="8.96" fill="#0044ff"/>
<rect x="688.54" y="197.06" width="8.96" height="8.96" fill="#006cff"/>
<rect x="697.00" y="197.06" width="8.96" height="8.96" fill="#009cff"/>
<rect x="705.46" y="197.06" width="9.04" height="8.96" fill="#00b8ff"/>
<rect x="105.00" y="205.52" width="8.76" height="8.96" fill="#00e4f8"/>
<rect x="113.26" y="205.52" width="8.96" height="8.96" fill="#29ffce"/>
<rect x="121.72" y="205.52" width="8.96" height="8.96" fill="#5aff9d"/>
<rect x="130.18" y="205.52" width="8.96" height="8.96" fill="#8dff6a"/>
<rect x="138.64" y="205.52" width="8.96" height="8.96" fill="#b1ff46"/>
<rect x="147.10" y="205.52" width="8.96" height="8.96" fill="#c7ff30"/>
<rect x="155.56" y="205.52" width="8.96" height="8.96" fill="#ebff0c"/>
<rect x="164.02" y="205.52" width="8.96" height="8.96" fill="#ffde00"/>
<rect x="172.48" y="205.52" width="8.96" height="8.96" fill="#ffd300"/>
<rect x="180.94" y="205.52" width="8.96" height="8.96" fill="#ffde00"/>
<rect x="189.40" y="205.52" width="8.96" height="8.96" fill="#f8f500"/>
<rect x="197.86" y="205.52" width="8.96" height="8.96" fill="#e7ff0f"/>
<rect x="206.32" y="205.52" width="8.96" height="8.96" fill="#d7ff1f"/>
<rect x="214.78" y="205.52" width="8.96" height="8.96" fill="#ceff29"/>
<rect x="223.24" y="205.52" width="17.42" height="8.96" fill="#caff2c"/>
<rect x="240.16" y="205.52" width="8.96" height="8.96" fill="#d7ff1f"/>
<rect x="248.62" y="205.52" width="8.96" height="8.96" fill="#e4ff13"/>
<rect x="257.08" y="205.52" width="8.96" height="8.96" fill="#e7ff0f"/>
<rect x="265.54" y="205.52" width="8.96" height="8.96" fill="#ebff0c"/>
<rect x="274.00" y="205.52" width="8.96" height="8.96" fill="#e7ff0f"/>
<rect x="282.46" y="205.52" width="8.96" height="8.96" fill="#e4ff13"/>
<rect x="290.92" y="205.52" width="8.96" height="8.96" fill="#d7ff1f"/>
<rect x="299.38" y="205.52" width="8.96" height="8.96" fill="#caff2c"/>
<rect x="307.84" y="205.52" width="8.96" height="8.96" fill="#baff3c"/>
<rect x="316.30" y="205.52" width="8.96" height="8.96" fill="#a0ff56"/>
<rect x="324.76" y="205.52" width="8.96" height="8.96" fill="#70ff87"/>
<rect x="333.22" y="205.52" width="8.96" height="8.96" fill="#30ffc7"/>
<rect x="341.68" y="205.52" width="8.96" height="8.96" fill="#009cff"/>
<rect x="350.14" y="205.52" width="8.96" height="8.96" fill="#0064ff"/>
<rect x="358.60" y="205.52" width="8.96" height="8.96" fill="#0028ff"/>
<rect x="367.06" y="205.52" width="8.96" height="8.96" fill="#0008ff"/>
<rect x="375.52" y="205.52" width="8.96" height="8.96" fill="#0000f6"/>
<rect x="383.98" y="205.52" width="8.96" height="8.96" fill="#0000da"/>
<rect x="392.44" y="205.52" width="34.34" height="8.96" fill="#0000cd"/>
<rect x="426.28" y="205.52" width="8.96" height="8.96" fill="#0000c8"/>
<rect x="434.74" y="205.52" width="59.72" height="8.96" fill="#0000c4"/>
<rect x="493.96" y="205.52" width="93.56" height="8.96" fill="#0000bf"/>
<rect x="587.02" y="205.52" width="8.96" height="8.96" fill="#0000c4"/>
<rect x="595.48" y="205.52" width="8.96" height="8.96" fill="#0000c8"/>
<rect x="603.94" y="205.52" width="8.96" height="8.96" fill="#0000d6"/>
<rect x="612.40" y="205.52" width="25.88" height="8.96" fill="#0000f1"/>
<rect x="637.78" y="205.52" width="17.42" height="8.96" fill="#0004ff"/>
<rect x="654.70" y="205.52" width="17.42" height="8.96" fill="#0018ff"/>
<rect x="671.62" y="205.52" width="8.96" height="8.96" fill="#002cff"/>
<rect x="680.08" y="205.52" width="8.96" height="8.96" fill="#0044ff"/>
<rect x="688.54" y="205.52" width="8.96" height="8.96" fill="#0068ff"/>
<rect x="697.00" y="205.52" width="8.96" height="8.96" fill="#009cff"/>
<rect x="705.46" y="205.52" width="9.04" height="8.96" fill="#00bcff"/>
<rect x="105.00" y="213.98" width="8.76" height="8.96" fill="#00d4ff"/>
<rect x="113.26" y="213.98" width="8.96" height="8.96" fill="#1cffdb"/>
<rect x="121.72" y="213.98" width="8.96" height="8.96" fill="#53ffa4"/>
<rect x="130.18" y="213.98" width="8.96" height="8.96" fill="#80ff77"/>
<rect x="138.64" y="213.98" width="8.96" height="8.96" fill="#aaff4d"/>
<rect x="147.10" y="213.98" width="8.96" height="8.96" fill="#ceff29"/>
<rect x="155.56" y="213.98" width="8.96" height="8.96" fill="#eeff09"/>
<rect x="164.02" y="213.98" width="8.96" height="8.96" fill="#ffc400"/>
<rect x="172.48" y="213.98" width="8.96" height="8.96" fill="#ffae00"/>
<rect x="180.94" y="213.98" width="8.96" height="8.96" fill="#ffa300"/>
<rect x="189.40" y="213.98" width="8.96" height="8.96" fill="#ffab00"/>
<rect x="197.86" y="213.98" width="8.96" height="8.96" fill="#ffb600"/>
<rect x="206.32" y="213.98" width="17.42" height="8.96" fill="#ffc100"/>
<rect x="223.24" y="213.98" width="8.96" height="8.96" fill="#ffb200"/>
<rect x="231.70" y="213.98" width="8.96" height="8.96" fill="#ff9f00"/>
<rect x="240.16" y="213.98" width="8.96" height="8.96" fill="#ff8d00"/>
<rect x="248.62" y="213.98" width="8.96" height="8.96" fill="#ff7a00"/>
<rect x="257.08" y="213.98" width="8.96" height="8.96" fill="#ff6f00"/>
<rect x="265.54" y="213.98" width="8.96" height="8.96" fill="#ff6800"/>
<rect x="274.00" y="213.98" width="8.96" height="8.96" fill="#ff8200"/>
<rect x="282.46" y="213.98" width="8.96" height="8.96" fill="#ffa300"/>
<rect x="290.92" y="213.98" width="8.96" height="8.96" fill="#ffc400"/>
<rect x="299.38" y="213.98" width="8.96" height="8.96" fill="#ffe200"/>
<rect x="307.84" y="213.98" width="8.96" height="8.96" fill="#e4ff13"/>
<rect x="316.30" y="213.98" width="8.96" height="8.96" fill="#a4ff53"/>
<rect x="324.76" y="213.98" width="8.96" height="8.96" fill="#56ffa0"/>
<rect x="333.22" y="213.98" width="8.96" height="8.96" fill="#00e0fb"/>
<rect x="341.68" y="213.98" width="8.96" height="8.96" fill="#0070ff"/>
<rect x="350.14" y="213.98" width="8.96" height="8.96" fill="#003cff"/>
<rect x="358.60" y="213.98" width="8.96" height="8.96" fill="#0014ff"/>
<rect x="367.06" y="213.98" width="59.72" height="8.96" fill="#0000ff"/>
<rect x="426.28" y="213.98" width="8.96" height="8.96" fill="#0000e8"/>
<rect x="434.74" y="213.98" width="8.96" height="8.96" fill="#0000cd"/>
<rect x="443.20" y="213.98" width="8.96" height="8.96" fill="#0000c4"/>
<rect x="451.66" y="213.98" width="34.34" height="8.96" fill="#0000b2"/>
<rect x="485.50" y="213.98" width="8.96" height="8.96" fill="#0000a8"/>
<rect x="493.96" y="213.98" width="102.02" height="8.96" fill="#0000a4"/>
<rect x="595.48" y="213.98" width="8.96" height="8.96" fill="#0000a8"/>
<rect x="603.94" y="213.98" width="8.96" height="8.96" fill="#0000bf"/>
<rect x="612.40" y="213.98" width="8.96" height="8.96" fill="#0000e3"/>
<rect x="620.86" y="213.98" width="8.96" height="8.96" fill="#0000e8"/>
<rect x="629.32" y="213.98" width="17.42" height="8.96" fill="#0000ff"/>
<rect x="646.24" y="213.98" width="8.96" height="8.96" fill="#0014ff"/>
<rect x="654.70" y="213.98" width="8.96" height="8.96" fill="#0028ff"/>
<rect x="663.16" y="213.98" width="8.96" height="8.96" fill="#0030ff"/>
<rect x="671.62" y="213.98" width="8.96" height="8.96" fill="#0040ff"/>
<rect x="680.08" y="213.98" width="8.96" height="8.96" fill="#0054ff"/>
<rect x="688.54" y="213.98" width="8.96" height="8.96" fill="#0074ff"/>
<rect x="697.00" y="213.98" width="8.96" height="8.96" fill="#0098ff"/>
<rect x="705.46" y="213.98" width="9.04" height="8.96" fill="#00acff"/>
<rect x="105.00" y="222.44" width="8.76" height="8.96" fill="#00b8ff"/>
<rect x="113.26" y="222.44" width="8.96" height="8.96" fill="#00d4ff"/>
<rect x="121.72" y="222.44" width="8.96" height="8.96" fill="#0cf4eb"/>
<rect x="130.18" y="222.44" width="8.96" height="8.96" fill="#29ffce"/>
<rect x="138.64" y="222.44" width="8.96" height="8.96" fill="#53ffa4"/>
<rect x="147.10" y="222.44" width="8.96" height="8.96" fill="#70ff87"/>
<rect x="155.56" y="222.44" width="8.96" height="8.96" fill="#8dff6a"/>
<rect x="164.02" y="222.44" width="8.96" height="8.96" fill="#b1ff46"/>
<rect x="172.48" y="222.44" width="8.96" height="8.96" fill="#d1ff26"/>
<rect x="180.94" y="222.44" width="8.96" height="8.96" fill="#ebff0c"/>
<rect x="189.40" y="222.44" width="8.96" height="8.96" fill="#f4f802"/>
<rect x="197.86" y="222.44" width="8.96" height="8.96" fill="#feed00"/>
<rect x="206.32" y="222.44" width="8.96" height="8.96" fill="#ffd300"/>
<rect x="214.78" y="222.44" width="8.96" height="8.96" fill="#ffae00"/>
<rect x="223.24" y="222.44" width="8.96" height="8.96" fill="#ff7e00"/>
<rect x="231.70" y="222.44" width="8.96" height="8.96" fill="#ff3f00"/>
<rect x="240.16" y="222.44" width="8.96" height="8.96" fill="#ed0400"/>
<rect x="248.62" y="222.44" width="8.96" height="8.96" fill="#b60000"/>
<rect x="257.08" y="222.44" width="8.96" height="8.96" fill="#ad0000"/>
<rect x="265.54" y="222.44" width="8.96" height="8.96" fill="#b20000"/>
<rect x="274.00" y="222.44" width="8.96" height="8.96" fill="#f10800"/>
<rect x="282.46" y="222.44" width="8.96" height="8.96" fill="#ff4a00"/>
<rect x="290.92" y="222.44" width="8.96" height="8.96" fill="#ff9400"/>
<rect x="299.38" y="222.44" width="8.96" height="8.96" fill="#ffd300"/>
<rect x="307.84" y="222.44" width="8.96" height="8.96" fill="#d7ff1f"/>
<rect x="316.30" y="222.44" width="8.96" height="8.96" fill="#80ff77"/>
<rect x="324.76" y="222.44" width="8.96" height="8.96" fill="#1cffdb"/>
<rect x="333.22" y="222.44" width="8.96" height="8.96" fill="#00a0ff"/>
<rect x="341.68" y="222.44" width="8.96" height="8.96" fill="#0044ff"/>
<rect x="350.14" y="222.44" width="8.96" height="8.96" fill="#0028ff"/>
<rect x="358.60" y="222.44" width="8.96" height="8.96" fill="#0014ff"/>
<rect x="367.06" y="222.44" width="8.96" height="8.96" fill="#000cff"/>
<rect x="375.52" y="222.44" width="17.42" height="8.96" fill="#0008ff"/>
<rect x="392.44" y="222.44" width="25.88" height="8.96" fill="#0018ff"/>
<rect x="417.82" y="222.44" width="8.96" height="8.96" fill="#0014ff"/>
<rect x="426.28" y="222.44" width="8.96" height="8.96" fill="#0000ff"/>
<rect x="434.74" y="222.44" width="8.96" height="8.96" fill="#0000f1"/>
<rect x="443.20" y="222.44" width="8.96" height="8.96" fill="#0000d6"/>
<rect x="451.66" y="222.44" width="8.96" height="8.96" fill="#0000b6"/>
<rect x="460.12" y="222.44" width="25.88" height="8.96" fill="#00009f"/>
<rect x="485.50" y="222.44" width="8.96" height="8.96" fill="#000096"/>
<rect x="493.96" y="222.44" width="110.48" height="8.96" fill="#000092"/>
<rect x="603.94" y="222.44" width="8.96" height="8.96" fill="#00009b"/>
<rect x="612.40" y="222.44" width="8.96" height="8.96" fill="#0000b6"/>
<rect x="620.86" y="222.44" width="17.42" height="8.96" fill="#0000ed"/>
<rect x="637.78" y="222.44" width="8.96" height="8.96" fill="#0008ff"/>
<rect x="646.24" y="222.44" width="8.96" height="8.96" fill="#0028ff"/>
<rect x="654.70" y="222.44" width="8.96" height="8.96" fill="#0040ff"/>
<rect x="663.16" y="222.44" width="8.96" height="8.96" fill="#0050ff"/>
<rect x="671.62" y="222.44" width="8.96" height="8.96" fill="#0060ff"/>
<rect x="680.08" y="222.44" width="8.96" height="8.96" fill="#0074ff"/>
<rect x="688.54" y="222.44" width="8.96" height="8.96" fill="#008cff"/>
<rect x="697.00" y="222.44" width="8.96" height="8.96" fill="#00b0ff"/>
<rect x="705.46" y="222.44" width="9.04" height="8.96" fill="#00c0ff"/>
<rect x="105.00" y="230.90" width="8.76" height="8.96" fill="#00a8ff"/>
<rect x="113.26" y="230.90" width="8.96" height="8.96" fill="#00b8ff"/>
<rect x="121.72" y="230.90" width="8.96" height="8.96" fill="#00c4ff"/>
<rect x="130.18" y="230.90" width="17.42" height="8.96" fill="#00ccff"/>
<rect x="147.10" y="230.90" width="8.96" height="8.96" fill="#00d4ff"/>
<rect x="155.56" y="230.90" width="8.96" height="8.96" fill="#00e0fb"/>
<rect x="164.02" y="230.90" width="8.96" height="8.96" fill="#1cffdb"/>
<rect x="172.48" y="230.90" width="8.96" height="8.96" fill="#30ffc7"/>
<rect x="180.94" y="230.90" width="17.42" height="8.96" fill="#39ffbe"/>
<rect x="197.86" y="230.90" width="8.96" height="8.96" fill="#5aff9d"/>
<rect x="206.32" y="230.90" width="8.96" height="8.96" fill="#80ff77"/>
<rect x="214.78" y="230.90" width="8.96" height="8.96" fill="#adff49"/>
<rect x="223.24" y="230.90" width="8.96" height="8.96" fill="#f4f802"/>
<rect x="231.70" y="230.90" width="8.96" height="8.96" fill="#ffa300"/>
<rect x="240.16" y="230.90" width="8.96" height="8.96" fill="#ff3f00"/>
<rect x="248.62" y="230.90" width="8.96" height="8.96" fill="#c40000"/>
<rect x="257.08" y="230.90" width="8.96" height="8.96" fill="#890000"/>
<rect x="265.54" y="230.90" width="8.96" height="8.96" fill="#8d0000"/>
<rect x="274.00" y="230.90" width="8.96" height="8.96" fill="#df0000"/>
<rect x="282.46" y="230.90" width="8.96" height="8.96" fill="#ff4a00"/>
<rect x="290.92" y="230.90" width="8.96" height="8.96" fill="#ff9400"/>
<rect x="299.38" y="230.90" width="8.96" height="8.96" fill="#f8f500"/>
<rect x="307.84" y="230.90" width="8.96" height="8.96" fill="#7dff7a"/>
<rect x="316.30" y="230.90" width="8.96" height="8.96" fill="#19ffde"/>
<rect x="324.76" y="230.90" width="8.96" height="8.96" fill="#009cff"/>
<rect x="333.22" y="230.90" width="8.96" height="8.96" fill="#005cff"/>
<rect x="341.68" y="230.90" width="8.96" height="8.96" fill="#0028ff"/>
<rect x="350.14" y="230.90" width="8.96" height="8.96" fill="#0014ff"/>
<rect x="358.60" y="230.90" width="8.96" height="8.96" fill="#0000ff"/>
<rect x="367.06" y="230.90" width="8.96" height="8.96" fill="#0000f1"/>
<rect x="375.52" y="230.90" width="8.96" height="8.96" fill="#0000ed"/>
<rect x="383.98" y="230.90" width="17.42" height="8.96" fill="#0000e8"/>
<rect x="400.90" y="230.90" width="8.96" height="8.96" fill="#0000da"/>
<rect x="409.36" y="230.90" width="8.96" height="8.96" fill="#0000cd"/>
<rect x="417.82" y="230.90" width="8.96" height="8.96" fill="#0000c4"/>
<rect x="426.28" y="230.90" width="8.96" height="8.96" fill="#0000ad"/>
<rect x="434.74" y="230.90" width="8.96" height="8.96" fill="#00009f"/>
<rect x="443.20" y="230.90" width="8.96" height="8.96" fill="#00009b"/>
<rect x="451.66" y="230.90" width="8.96" height="8.96" fill="#000096"/>
<rect x="460.12" y="230.90" width="144.32" height="8.96" fill="#000089"/>
<rect x="603.94" y="230.90" width="17.42" height="8.96" fill="#00008d"/>
<rect x="620.86" y="230.90" width="8.96" height="8.96" fill="#0000da"/>
<rect x="629.32" y="230.90" width="8.96" height="8.96" fill="#0000f6"/>
<rect x="637.78" y="230.90" width="8.96" height="8.96" fill="#0018ff"/>
<rect x="646.24" y="230.90" width="8.96" height="8.96" fill="#003cff"/>
<rect x="654.70" y="230.90" width="8.96" height="8.96" fill="#005cff"/>
<rect x="663.16" y="230.90" width="8.96" height="8.96" fill="#0070ff"/>
<rect x="671.62" y="230.90" width="8.96" height="8.96" fill="#0084ff"/>
<rect x="680.08" y="230.90" width="8.96" height="8.96" fill="#0098ff"/>
<rect x="688.54" y="230.90" width="8.96" height="8.96" fill="#00c0ff"/>
<rect x="697.00" y="230.90" width="8.96" height="8.96" fill="#00e0fb"/>
<rect x="705.46" y="230.90" width="9.04" height="8.96" fill="#16ffe1"/>
<rect x="105.00" y="239.36" width="8.76" height="8.96" fill="#1fffd7"/>
<rect x="113.26" y="239.36" width="8.96" height="8.96" fill="#1cffdb"/>
<rect x="121.72" y="239.36" width="8.96" height="8.96" fill="#0ff8e7"/>
<rect x="130.18" y="239.36" width="8.96" height="8.96" fill="#00e4f8"/>
<rect x="138.64" y="239.36" width="42.80" height="8.96" fill="#00e0fb"/>
<rect x="180.94" y="239.36" width="8.96" height="8.96" fill="#00d4ff"/>
<rect x="189.40" y="239.36" width="8.96" height="8.96" fill="#00c4ff"/>
<rect x="197.86" y="239.36" width="8.96" height="8.96" fill="#00c0ff"/>
<rect x="206.32" y="239.36" width="8.96" height="8.96" fill="#00ccff"/>
<rect x="214.78" y="239.36" width="8.96" height="8.96" fill="#09f0ee"/>
<rect x="223.24" y="239.36" width="8.96" height="8.96" fill="#39ffbe"/>
<rect x="231.70" y="239.36" width="8.96" height="8.96" fill="#8dff6a"/>
<rect x="240.16" y="239.36" width="8.96" height="8.96" fill="#f4f802"/>
<rect x="248.62" y="239.36" width="8.96" height="8.96" fill="#ff9f00"/>
<rect x="257.08" y="239.36" width="8.96" height="8.96" fill="#ff5900"/>
<rect x="265.54" y="239.36" width="8.96" height="8.96" fill="#ff4e00"/>
<rect x="274.00" y="239.36" width="8.96" height="8.96" fill="#ff6f00"/>
<rect x="282.46" y="239.36" width="8.96" height="8.96" fill="#ffc400"/>
<rect x="290.92" y="239.36" width="8.96" height="8.96" fill="#d7ff1f"/>
<rect x="299.38" y="239.36" width="8.96" height="8.96" fill="#5aff9d"/>
<rect x="307.84" y="239.36" width="8.96" height="8.96" fill="#02e8f4"/>
<rect x="316.30" y="239.36" width="8.96" height="8.96" fill="#009cff"/>
<rect x="324.76" y="239.36" width="8.96" height="8.96" fill="#0070ff"/>
<rect x="333.22" y="239.36" width="8.96" height="8.96" fill="#003cff"/>
<rect x="341.68" y="239.36" width="8.96" height="8.96" fill="#0014ff"/>
<rect x="350.14" y="239.36" width="8.96" height="8.96" fill="#0000ff"/>
<rect x="358.60" y="239.36" width="8.96" height="8.96" fill="#0000df"/>
<rect x="367.06" y="239.36" width="8.96" height="8.96" fill="#0000c4"/>
<rect x="375.52" y="239.36" width="8.96" height="8.96" fill="#0000ad"/>
<rect x="383.98" y="239.36" width="8.96" height="8.96" fill="#00009b"/>
<rect x="392.44" y="239.36" width="68.18" height="8.96" fill="#000096"/>
<rect x="460.12" y="239.36" width="152.78" height="8.96" fill="#000089"/>
<rect x="612.40" y="239.36" width="8.96" height="8.96" fill="#00008d"/>
<rect x="620.86" y="239.36" width="8.96" height="8.96" fill="#0000cd"/>
<rect x="629.32" y="239.36" width="8.96" height="8.96" fill="#0000ed"/>
<rect x="637.78" y="239.36" width="8.96" height="8.96" fill="#000cff"/>
<rect x="646.24" y="239.36" width="8.96" height="8.96" fill="#0038ff"/>
<rect x="654.70" y="239.36" width="8.96" height="8.96" fill="#0054ff"/>
<rect x="663.16" y="239.36" width="8.96" height="8.96" fill="#0070ff"/>
<rect x="671.62" y="239.36" width="8.96" height="8.96" fill="#0088ff"/>
<rect x="680.08" y="239.36" width="8.96" height="8.96" fill="#00a0ff"/>
<rect x="688.54" y="239.36" width="8.96" height="8.96" fill="#00d4ff"/>
<rect x="697.00" y="239.36" width="8.96" height="8.96" fill="#19ffde"/>
<rect x="705.46" y="239.36" width="9.04" height="8.96" fill="#39ffbe"/>
<rect x="105.00" y="247.82" width="42.60" height="8.96" fill="#29ffce"/>
<rect x="147.10" y="247.82" width="8.96" height="8.96" fill="#2cffca"/>
<rect x="155.56" y="247.82" width="17.42" height="8.96" fill="#36ffc1"/>
<rect x="172.48" y="247.82" width="8.96" height="8.96" fill="#29ffce"/>
<rect x="180.94" y="247.82" width="8.96" height="8.96" fill="#1cffdb"/>
<rect x="189.40" y="247.82" width="8.96" height="8.96" fill="#16ffe1"/>
<rect x="197.86" y="247.82" width="8.96" height="8.96" fill="#00e0fb"/>
<rect x="206.32" y="247.82" width="8.96" height="8.96" fill="#00d4ff"/>
<rect x="214.78" y="247.82" width="8.96" height="8.96" fill="#00dcfe"/>
<rect x="223.24" y="247.82" width="8.96" height="8.96" fill="#19ffde"/>
<rect x="231.70" y="247.82" width="8.96" height="8.96" fill="#30ffc7"/>
<rect x="240.16" y="247.82" width="8.96" height="8.96" fill="#70ff87"/>
<rect x="248.62" y="247.82" width="8.96" height="8.96" fill="#a0ff56"/>
<rect x="257.08" y="247.82" width="17.42" height="8.96" fill="#beff39"/>
<rect x="274.00" y="247.82" width="8.96" height="8.96" fill="#94ff63"/>
<rect x="282.46" y="247.82" width="8.96" height="8.96" fill="#63ff94"/>
<rect x="290.92" y="247.82" width="8.96" height="8.96" fill="#19ffde"/>
<rect x="299.38" y="247.82" width="8.96" height="8.96" fill="#00b0ff"/>
<rect x="307.84" y="247.82" width="8.96" height="8.96" fill="#0088ff"/>
<rect x="316.30" y="247.82" width="8.96" height="8.96" fill="#0068ff"/>
<rect x="324.76" y="247.82" width="8.96" height="8.96" fill="#004cff"/>
<rect x="333.22" y="247.82" width="8.96" height="8.96" fill="#0030ff"/>
<rect x="341.68" y="247.82" width="8.96" height="8.96" fill="#0018ff"/>
<rect x="350.14" y="247.82" width="8.96" height="8.96" fill="#0000e8"/>
<rect x="358.60" y="247.82" width="8.96" height="8.96" fill="#0000b6"/>
<rect x="367.06" y="247.82" width="8.96" height="8.96" fill="#00008d"/>
<rect x="375.52" y="247.82" width="59.72" height="8.96" fill="#000089"/>
<rect x="434.74" y="247.82" width="8.96" height="8.96" fill="#00008d"/>
<rect x="443.20" y="247.82" width="17.42" height="8.96" fill="#000096"/>
<rect x="460.12" y="247.82" width="25.88" height="8.96" fill="#000089"/>
<rect x="485.50" y="247.82" width="135.86" height="8.96" fill="#00008d"/>
<rect x="620.86" y="247.82" width="8.96" height="8.96" fill="#0000ad"/>
<rect x="629.32" y="247.82" width="8.96" height="8.96" fill="#0000e8"/>
<rect x="637.78" y="247.82" width="8.96" height="8.96" fill="#0000ff"/>
<rect x="646.24" y="247.82" width="8.96" height="8.96" fill="#001cff"/>
<rect x="654.70" y="247.82" width="8.96" height="8.96" fill="#003cff"/>
<rect x="663.16" y="247.82" width="8.96" height="8.96" fill="#0054ff"/>
<rect x="671.62" y="247.82" width="8.96" height="8.96" fill="#0070ff"/>
<rect x="680.08" y="247.82" width="8.96" height="8.96" fill="#0088ff"/>
<rect x="688.54" y="247.82" width="8.96" height="8.96" fill="#00acff"/>
<rect x="697.00" y="247.82" width="8.96" height="8.96" fill="#00d0ff"/>
<rect x="705.46" y="247.82" width="9.04" height="8.96" fill="#0cf4eb"/>
<rect x="105.00" y="256.28" width="8.76" height="8.96" fill="#00ccff"/>
<rect x="113.26" y="256.28" width="17.42" height="8.96" fill="#00d4ff"/>
<rect x="130.18" y="256.28" width="17.42" height="8.96" fill="#00dcfe"/>
<rect x="147.10" y="256.28" width="8.96" height="8.96" fill="#16ffe1"/>
<rect x="155.56" y="256.28" width="8.96" height="8.96" fill="#30ffc7"/>
<rect x="164.02" y="256.28" width="8.96" height="8.96" fill="#46ffb1"/>
<rect x="172.48" y="256.28" width="17.42" height="8.96" fill="#56ffa0"/>
<rect x="189.40" y="256.28" width="8.96" height="8.96" fill="#53ffa4"/>
<rect x="197.86" y="256.28" width="17.42" height="8.96" fill="#49ffad"/>
<rect x="214.78" y="256.28" width="8.96" height="8.96" fill="#53ffa4"/>
<rect x="223.24" y="256.28" width="8.96" height="8.96" fill="#60ff97"/>
<rect x="231.70" y="256.28" width="8.96" height="8.96" fill="#70ff87"/>
<rect x="240.16" y="256.28" width="8.96" height="8.96" fill="#73ff83"/>
<rect x="248.62" y="256.28" width="8.96" height="8.96" fill="#7dff7a"/>
<rect x="257.08" y="256.28" width="8.96" height="8.96" fill="#73ff83"/>
<rect x="265.54" y="256.28" width="8.96" height="8.96" fill="#63ff94"/>
<rect x="274.00" y="256.28" width="8.96" height="8.96" fill="#46ffb1"/>
<rect x="282.46" y="256.28" width="8.96" height="8.96" fill="#0cf4eb"/>
<rect x="290.92" y="256.28" width="8.96" height="8.96" fill="#00b0ff"/>
<rect x="299.38" y="256.28" width="8.96" height="8.96" fill="#0088ff"/>
<rect x="307.84" y="256.28" width="8.96" height="8.96" fill="#0064ff"/>
<rect x="316.30" y="256.28" width="8.96" height="8.96" fill="#004cff"/>
<rect x="324.76" y="256.28" width="8.96" height="8.96" fill="#0030ff"/>
<rect x="333.22" y="256.28" width="8.96" height="8.96" fill="#000cff"/>
<rect x="341.68" y="256.28" width="8.96" height="8.96" fill="#0000ff"/>
<rect x="350.14" y="256.28" width="8.96" height="8.96" fill="#0000cd"/>
<rect x="358.60" y="256.28" width="8.96" height="8.96" fill="#0000ad"/>
<rect x="367.06" y="256.28" width="68.18" height="8.96" fill="#000089"/>
<rect x="434.74" y="256.28" width="8.96" height="8.96" fill="#00008d"/>
<rect x="443.20" y="256.28" width="17.42" height="8.96" fill="#000096"/>
<rect x="460.12" y="256.28" width="76.64" height="8.96" fill="#00009b"/>
<rect x="536.26" y="256.28" width="59.72" height="8.96" fill="#00009f"/>
<rect x="595.48" y="256.28" width="25.88" height="8.96" fill="#00009b"/>
<rect x="620.86" y="256.28" width="8.96" height="8.96" fill="#0000ad"/>
<rect x="629.32" y="256.28" width="8.96" height="8.96" fill="#0000da"/>
<rect x="637.78" y="256.28" width="8.96" height="8.96" fill="#0000f1"/>
<rect x="646.24" y="256.28" width="8.96" height="8.96" fill="#0000ff"/>
<rect x="654.70" y="256.28" width="8.96" height="8.96" fill="#001cff"/>
<rect x="663.16" y="256.28" width="8.96" height="8.96" fill="#0030ff"/>
<rect x="671.62" y="256.28" width="8.96" height="8.96" fill="#004cff"/>
<rect x="680.08" y="256.28" width="8.96" height="8.96" fill="#0064ff"/>
<rect x="688.54" y="256.28" width="8.96" height="8.96" fill="#007cff"/>
<rect x="697.00" y="256.28" width="8.96" height="8.96" fill="#0094ff"/>
<rect x="705.46" y="256.28" width="9.04" height="8.96" fill="#00a8ff"/>
<rect x="105.00" y="264.74" width="42.60" height="8.96" fill="#0088ff"/>
<rect x="147.10" y="264.74" width="8.96" height="8.96" fill="#008cff"/>
<rect x="155.56" y="264.74" width="8.96" height="8.96" fill="#0098ff"/>
<rect x="164.02" y="264.74" width="8.96" height="8.96" fill="#00c0ff"/>
<rect x="172.48" y="264.74" width="8.96" height="8.96" fill="#00e0fb"/>
<rect x="180.94" y="264.74" width="8.96" height="8.96" fill="#26ffd1"/>
<rect x="189.40" y="264.74" width="8.96" height="8.96" fill="#30ffc7"/>
<rect x="197.86" y="264.74" width="8.96" height="8.96" fill="#46ffb1"/>
<rect x="206.32" y="264.74" width="8.96" height="8.96" fill="#63ff94"/>
<rect x="214.78" y="264.74" width="8.96" height="8.96" fill="#83ff73"/>
<rect x="223.24" y="264.74" width="8.96" height="8.96" fill="#a4ff53"/>
<rect x="231.70" y="264.74" width="8.96" height="8.96" fill="#baff3c"/>
<rect x="240.16" y="264.74" width="17.42" height="8.96" fill="#c1ff36"/>
<rect x="257.08" y="264.74" width="8.96" height="8.96" fill="#a4ff53"/>
<rect x="265.54" y="264.74" width="8.96" height="8.96" fill="#7dff7a"/>
<rect x="274.00" y="264.74" width="8.96" height="8.96" fill="#29ffce"/>
<rect x="282.46" y="264.74" width="8.96" height="8.96" fill="#00d4ff"/>
<rect x="290.92" y="264.74" width="8.96" height="8.96" fill="#0094ff"/>
<rect x="299.38" y="264.74" width="8.96" height="8.96" fill="#0064ff"/>
<rect x="307.84" y="264.74" width="8.96" height="8.96" fill="#0044ff"/>
<rect x="316.30" y="264.74" width="8.96" height="8.96" fill="#0028ff"/>
<rect x="324.76" y="264.74" width="8.96" height="8.96" fill="#000cff"/>
<rect x="333.22" y="264.74" width="8.96" height="8.96" fill="#0000f6"/>
<rect x="341.68" y="264.74" width="8.96" height="8.96" fill="#0000d6"/>
<rect x="350.14" y="264.74" width="8.96" height="8.96" fill="#000096"/>
<rect x="358.60" y="264.74" width="34.34" height="8.96" fill="#000089"/>
<rect x="392.44" y="264.74" width="59.72" height="8.96" fill="#000096"/>
<rect x="451.66" y="264.74" width="17.42" height="8.96" fill="#00009b"/>
<rect x="468.58" y="264.74" width="59.72" height="8.96" fill="#0000ad"/>
<rect x="527.80" y="264.74" width="8.96" height="8.96" fill="#0000b6"/>
<rect x="536.26" y="264.74" width="59.72" height="8.96" fill="#0000bb"/>
<rect x="595.48" y="264.74" width="8.96" height="8.96" fill="#0000b6"/>
<rect x="603.94" y="264.74" width="25.88" height="8.96" fill="#0000b2"/>
<rect x="629.32" y="264.74" width="17.42" height="8.96" fill="#0000da"/>
<rect x="646.24" y="264.74" width="8.96" height="8.96" fill="#0000f6"/>
<rect x="654.70" y="264.74" width="8.96" height="8.96" fill="#0000ff"/>
<rect x="663.16" y="264.74" width="8.96" height="8.96" fill="#0014ff"/>
<rect x="671.62" y="264.74" width="8.96" height="8.96" fill="#0028ff"/>
<rect x="680.08" y="264.74" width="8.96" height="8.96" fill="#0038ff"/>
<rect x="688.54" y="264.74" width="8.96" height="8.96" fill="#0044ff"/>
<rect x="697.00" y="264.74" width="8.96" height="8.96" fill="#0054ff"/>
<rect x="705.46" y="264.74" width="9.04" height="8.96" fill="#0060ff"/>
<rect x="105.00" y="273.20" width="34.14" height="8.96" fill="#0028ff"/>
<rect x="138.64" y="273.20" width="17.42" height="8.96" fill="#002cff"/>
<rect x="155.56" y="273.20" width="8.96" height="8.96" fill="#0038ff"/>
<rect x="164.02" y="273.20" width="8.96" height="8.96" fill="#0054ff"/>
<rect x="172.48" y="273.20" width="8.96" height="8.96" fill="#0068ff"/>
<rect x="180.94" y="273.20" width="8.96" height="8.96" fill="#0080ff"/>
<rect x="189.40" y="273.20" width="8.96" height="8.96" fill="#0094ff"/>
<rect x="197.86" y="273.20" width="8.96" height="8.96" fill="#00bcff"/>
<rect x="206.32" y="273.20" width="8.96" height="8.96" fill="#00e0fb"/>
<rect x="214.78" y="273.20" width="8.96" height="8.96" fill="#30ffc7"/>
<rect x="223.24" y="273.20" width="8.96" height="8.96" fill="#63ff94"/>
<rect x="231.70" y="273.20" width="8.96" height="8.96" fill="#80ff77"/>
<rect x="240.16" y="273.20" width="8.96" height="8.96" fill="#8dff6a"/>
<rect x="248.62" y="273.20" width="8.96" height="8.96" fill="#94ff63"/>
<rect x="257.08" y="273.20" width="8.96" height="8.96" fill="#83ff73"/>
<rect x="265.54" y="273.20" width="8.96" height="8.96" fill="#70ff87"/>
<rect x="274.00" y="273.20" width="8.96" height="8.96" fill="#30ffc7"/>
<rect x="282.46" y="273.20" width="8.96" height="8.96" fill="#00d0ff"/>
<rect x="290.92" y="273.20" width="8.96" height="8.96" fill="#0088ff"/>
<rect x="299.38" y="273.20" width="8.96" height="8.96" fill="#004cff"/>
<rect x="307.84" y="273.20" width="8.96" height="8.96" fill="#0020ff"/>
<rect x="316.30" y="273.20" width="8.96" height="8.96" fill="#0000ff"/>
<rect x="324.76" y="273.20" width="8.96" height="8.96" fill="#0000df"/>
<rect x="333.22" y="273.20" width="8.96" height="8.96" fill="#0000bf"/>
<rect x="341.68" y="273.20" width="34.34" height="8.96" fill="#000089"/>
<rect x="375.52" y="273.20" width="17.42" height="8.96" fill="#00009f"/>
<rect x="392.44" y="273.20" width="42.80" height="8.96" fill="#0000c4"/>
<rect x="434.74" y="273.20" width="8.96" height="8.96" fill="#0000bf"/>
<rect x="443.20" y="273.20" width="8.96" height="8.96" fill="#0000b6"/>
<rect x="451.66" y="273.20" width="8.96" height="8.96" fill="#0000b2"/>
<rect x="460.12" y="273.20" width="17.42" height="8.96" fill="#0000ad"/>
<rect x="477.04" y="273.20" width="42.80" height="8.96" fill="#0000b6"/>
<rect x="519.34" y="273.20" width="8.96" height="8.96" fill="#0000bb"/>
<rect x="527.80" y="273.20" width="68.18" height="8.96" fill="#0000c4"/>
<rect x="595.48" y="273.20" width="42.80" height="8.96" fill="#0000bf"/>
<rect x="637.78" y="273.20" width="8.96" height="8.96" fill="#0000bb"/>
<rect x="646.24" y="273.20" width="8.96" height="8.96" fill="#0000e3"/>
<rect x="654.70" y="273.20" width="8.96" height="8.96" fill="#0000f1"/>
<rect x="663.16" y="273.20" width="8.96" height="8.96" fill="#0000ff"/>
<rect x="671.62" y="273.20" width="8.96" height="8.96" fill="#0008ff"/>
<rect x="680.08" y="273.20" width="8.96" height="8.96" fill="#0014ff"/>
<rect x="688.54" y="273.20" width="8.96" height="8.96" fill="#001cff"/>
<rect x="697.00" y="273.20" width="17.50" height="8.96" fill="#0024ff"/>
<rect x="105.00" y="281.66" width="17.22" height="8.96" fill="#000cff"/>
<rect x="121.72" y="281.66" width="42.80" height="8.96" fill="#0000ff"/>
<rect x="164.02" y="281.66" width="8.96" height="8.96" fill="#0008ff"/>
<rect x="172.48" y="281.66" width="8.96" height="8.96" fill="#001cff"/>
<rect x="180.94" y="281.66" width="8.96" height="8.96" fill="#0030ff"/>
<rect x="189.40" y="281.66" width="8.96" height="8.96" fill="#0050ff"/>
<rect x="197.86" y="281.66" width="8.96" height="8.96" fill="#0060ff"/>
<rect x="206.32" y="281.66" width="8.96" height="8.96" fill="#0074ff"/>
<rect x="214.78" y="281.66" width="8.96" height="8.96" fill="#0094ff"/>
<rect x="223.24" y="281.66" width="8.96" height="8.96" fill="#00bcff"/>
<rect x="231.70" y="281.66" width="8.96" height="8.96" fill="#00dcfe"/>
<rect x="240.16" y="281.66" width="8.96" height="8.96" fill="#13fce4"/>
<rect x="248.62" y="281.66" width="8.96" height="8.96" fill="#26ffd1"/>
<rect x="257.08" y="281.66" width="8.96" height="8.96" fill="#1cffdb"/>
<rect x="265.54" y="281.66" width="8.96" height="8.96" fill="#00e4f8"/>
<rect x="274.00" y="281.66" width="8.96" height="8.96" fill="#00bcff"/>
<rect x="282.46" y="281.66" width="8.96" height="8.96" fill="#0084ff"/>
<rect x="290.92" y="281.66" width="8.96" height="8.96" fill="#003cff"/>
<rect x="299.38" y="281.66" width="8.96" height="8.96" fill="#000cff"/>
<rect x="307.84" y="281.66" width="8.96" height="8.96" fill="#0000f1"/>
<rect x="316.30" y="281.66" width="8.96" height="8.96" fill="#0000df"/>
<rect x="324.76" y="281.66" width="8.96" height="8.96" fill="#0000bf"/>
<rect x="333.22" y="281.66" width="8.96" height="8.96" fill="#000096"/>
<rect x="341.68" y="281.66" width="25.88" height="8.96" fill="#000089"/>
<rect x="367.06" y="281.66" width="8.96" height="8.96" fill="#00009b"/>
<rect x="375.52" y="281.66" width="8.96" height="8.96" fill="#0000b2"/>
<rect x="383.98" y="281.66" width="8.96" height="8.96" fill="#0000c8"/>
<rect x="392.44" y="281.66" width="42.80" height="8.96" fill="#0000d6"/>
<rect x="434.74" y="281.66" width="8.96" height="8.96" fill="#0000c8"/>
<rect x="443.20" y="281.66" width="8.96" height="8.96" fill="#0000c4"/>
<rect x="451.66" y="281.66" width="8.96" height="8.96" fill="#0000bf"/>
<rect x="460.12" y="281.66" width="8.96" height="8.96" fill="#0000b2"/>
<rect x="468.58" y="281.66" width="8.96" height="8.96" fill="#0000ad"/>
<rect x="477.04" y="281.66" width="51.26" height="8.96" fill="#0000bf"/>
<rect x="527.80" y="281.66" width="76.64" height="8.96" fill="#0000c4"/>
<rect x="603.94" y="281.66" width="42.80" height="8.96" fill="#0000bf"/>
<rect x="646.24" y="281.66" width="8.96" height="8.96" fill="#0000c4"/>
<rect x="654.70" y="281.66" width="8.96" height="8.96" fill="#0000e3"/>
<rect x="663.16" y="281.66" width="8.96" height="8.96" fill="#0000f6"/>
<rect x="671.62" y="281.66" width="42.88" height="8.96" fill="#0000ff"/>
<rect x="105.00" y="290.12" width="17.22" height="8.96" fill="#0000fa"/>
<rect x="121.72" y="290.12" width="34.34" height="8.96" fill="#0000f6"/>
<rect x="155.56" y="290.12" width="25.88" height="8.96" fill="#0000fa"/>
<rect x="180.94" y="290.12" width="8.96" height="8.96" fill="#0000ff"/>
<rect x="189.40" y="290.12" width="8.96" height="8.96" fill="#001cff"/>
<rect x="197.86" y="290.12" width="8.96" height="8.96" fill="#0028ff"/>
<rect x="206.32" y="290.12" width="8.96" height="8.96" fill="#0038ff"/>
<rect x="214.78" y="290.12" width="8.96" height="8.96" fill="#0048ff"/>
<rect x="223.24" y="290.12" width="8.96" height="8.96" fill="#005cff"/>
<rect x="231.70" y="290.12" width="8.96" height="8.96" fill="#006cff"/>
<rect x="240.16" y="290.12" width="17.42" height="8.96" fill="#0070ff"/>
<rect x="257.08" y="290.12" width="8.96" height="8.96" fill="#0068ff"/>
<rect x="265.54" y="290.12" width="8.96" height="8.96" fill="#0058ff"/>
<rect x="274.00" y="290.12" width="8.96" height="8.96" fill="#0034ff"/>
<rect x="282.46" y="290.12" width="8.96" height="8.96" fill="#0014ff"/>
<rect x="290.92" y="290.12" width="8.96" height="8.96" fill="#0000ff"/>
<rect x="299.38" y="290.12" width="8.96" height="8.96" fill="#0000e8"/>
<rect x="307.84" y="290.12" width="8.96" height="8.96" fill="#0000d1"/>
<rect x="316.30" y="290.12" width="8.96" height="8.96" fill="#0000b2"/>
<rect x="324.76" y="290.12" width="8.96" height="8.96" fill="#000089"/>
<rect x="333.22" y="290.12" width="8.96" height="8.96" fill="#000084"/>
<rect x="341.68" y="290.12" width="17.42" height="8.96" fill="#000089"/>
<rect x="358.60" y="290.12" width="8.96" height="8.96" fill="#000096"/>
<rect x="367.06" y="290.12" width="8.96" height="8.96" fill="#0000ad"/>
<rect x="375.52" y="290.12" width="8.96" height="8.96" fill="#0000c4"/>
<rect x="383.98" y="290.12" width="51.26" height="8.96" fill="#0000d6"/>
<rect x="434.74" y="290.12" width="17.42" height="8.96" fill="#0000c8"/>
<rect x="451.66" y="290.12" width="8.96" height="8.96" fill="#0000c4"/>
<rect x="460.12" y="290.12" width="8.96" height="8.96" fill="#0000bf"/>
<rect x="468.58" y="290.12" width="8.96" height="8.96" fill="#0000b2"/>
<rect x="477.04" y="290.12" width="8.96" height="8.96" fill="#0000bb"/>
<rect x="485.50" y="290.12" width="152.78" height="8.96" fill="#0000bf"/>
<rect x="637.78" y="290.12" width="8.96" height="8.96" fill="#0000c4"/>
<rect x="646.24" y="290.12" width="8.96" height="8.96" fill="#0000c8"/>
<rect x="654.70" y="290.12" width="8.96" height="8.96" fill="#0000d6"/>
<rect x="663.16" y="290.12" width="8.96" height="8.96" fill="#0000e3"/>
<rect x="671.62" y="290.12" width="8.96" height="8.96" fill="#0000f1"/>
<rect x="680.08" y="290.12" width="17.42" height="8.96" fill="#0000f6"/>
<rect x="697.00" y="290.12" width="17.50" height="8.96" fill="#0000fa"/>
<rect x="105.00" y="298.58" width="34.14" height="8.96" fill="#0000ed"/>
<rect x="138.64" y="298.58" width="17.42" height="8.96" fill="#0000f1"/>
<rect x="155.56" y="298.58" width="8.96" height="8.96" fill="#0000f6"/>
<rect x="164.02" y="298.58" width="25.88" height="8.96" fill="#0000ff"/>
<rect x="189.40" y="298.58" width="8.96" height="8.96" fill="#0008ff"/>
<rect x="197.86" y="298.58" width="8.96" height="8.96" fill="#0018ff"/>
<rect x="206.32" y="298.58" width="17.42" height="8.96" fill="#0020ff"/>
<rect x="223.24" y="298.58" width="17.42" height="8.96" fill="#0024ff"/>
<rect x="240.16" y="298.58" width="8.96" height="8.96" fill="#0028ff"/>
<rect x="248.62" y="298.58" width="8.96" height="8.96" fill="#0024ff"/>
<rect x="257.08" y="298.58" width="8.96" height="8.96" fill="#0020ff"/>
<rect x="265.54" y="298.58" width="8.96" height="8.96" fill="#0014ff"/>
<rect x="274.00" y="298.58" width="8.96" height="8.96" fill="#0008ff"/>
<rect x="282.46" y="298.58" width="8.96" height="8.96" fill="#0000ff"/>
<rect x="290.92" y="298.58" width="8.96" height="8.96" fill="#0000e8"/>
<rect x="299.38" y="298.58" width="8.96" height="8.96" fill="#0000d1"/>
<rect x="307.84" y="298.58" width="8.96" height="8.96" fill="#0000b6"/>
<rect x="316.30" y="298.58" width="8.96" height="8.96" fill="#000096"/>
<rect x="324.76" y="298.58" width="8.96" height="8.96" fill="#000084"/>
<rect x="333.22" y="298.58" width="8.96" height="8.96" fill="#000080"/>
<rect x="341.68" y="298.58" width="8.96" height="8.96" fill="#000089"/>
<rect x="350.14" y="298.58" width="8.96" height="8.96" fill="#000096"/>
<rect x="358.60" y="298.58" width="8.96" height="8.96" fill="#0000a4"/>
<rect x="367.06" y="298.58" width="8.96" height="8.96" fill="#0000b6"/>
<rect x="375.52" y="298.58" width="8.96" height="8.96" fill="#0000c8"/>
<rect x="383.98" y="298.58" width="42.80" height="8.96" fill="#0000d6"/>
<rect x="426.28" y="298.58" width="25.88" height="8.96" fill="#0000c8"/>
<rect x="451.66" y="298.58" width="8.96" height="8.96" fill="#0000c4"/>
<rect x="460.12" y="298.58" width="8.96" height="8.96" fill="#0000bf"/>
<rect x="468.58" y="298.58" width="25.88" height="8.96" fill="#0000b6"/>
<rect x="493.96" y="298.58" width="93.56" height="8.96" fill="#0000bb"/>
<rect x="587.02" y="298.58" width="51.26" height="8.96" fill="#0000b6"/>
<rect x="637.78" y="298.58" width="8.96" height="8.96" fill="#0000bb"/>
<rect x="646.24" y="298.58" width="8.96" height="8.96" fill="#0000c4"/>
<rect x="654.70" y="298.58" width="8.96" height="8.96" fill="#0000cd"/>
<rect x="663.16" y="298.58" width="8.96" height="8.96" fill="#0000d1"/>
<rect x="671.62" y="298.58" width="8.96" height="8.96" fill="#0000da"/>
<rect x="680.08" y="298.58" width="8.96" height="8.96" fill="#0000df"/>
<rect x="688.54" y="298.58" width="8.96" height="8.96" fill="#0000e3"/>
<rect x="697.00" y="298.58" width="8.96" height="8.96" fill="#0000e8"/>
<rect x="705.46" y="298.58" width="9.04" height="8.96" fill="#0000ed"/>
<rect x="105.00" y="307.04" width="8.76" height="8.96" fill="#0000ed"/>
<rect x="113.26" y="307.04" width="8.96" height="8.96" fill="#0000f1"/>
<rect x="121.72" y="307.04" width="8.96" height="8.96" fill="#0000f6"/>
<rect x="130.18" y="307.04" width="8.96" height="8.96" fill="#0000fa"/>
<rect x="138.64" y="307.04" width="34.34" height="8.96" fill="#0000ff"/>
<rect x="172.48" y="307.04" width="8.96" height="8.96" fill="#0004ff"/>
<rect x="180.94" y="307.04" width="8.96" height="8.96" fill="#000cff"/>
<rect x="189.40" y="307.04" width="8.96" height="8.96" fill="#0010ff"/>
<rect x="197.86" y="307.04" width="51.26" height="8.96" fill="#0014ff"/>
<rect x="248.62" y="307.04" width="8.96" height="8.96" fill="#0010ff"/>
<rect x="257.08" y="307.04" width="8.96" height="8.96" fill="#0004ff"/>
<rect x="265.54" y="307.04" width="8.96" height="8.96" fill="#0000ff"/>
<rect x="274.00" y="307.04" width="8.96" height="8.96" fill="#0000fa"/>
<rect x="282.46" y="307.04" width="8.96" height="8.96" fill="#0000ed"/>
<rect x="290.92" y="307.04" width="8.96" height="8.96" fill="#0000da"/>
<rect x="299.38" y="307.04" width="8.96" height="8.96" fill="#0000bf"/>
<rect x="307.84" y="307.04" width="8.96" height="8.96" fill="#0000a4"/>
<rect x="316.30" y="307.04" width="8.96" height="8.96" fill="#00008d"/>
<rect x="324.76" y="307.04" width="8.96" height="8.96" fill="#000089"/>
<rect x="333.22" y="307.04" width="17.42" height="8.96" fill="#000096"/>
<rect x="350.14" y="307.04" width="8.96" height="8.96" fill="#00009f"/>
<rect x="358.60" y="307.04" width="8.96" height="8.96" fill="#0000b2"/>
<rect x="367.06" y="307.04" width="8.96" height="8.96" fill="#0000bf"/>
<rect x="375.52" y="307.04" width="51.26" height="8.96" fill="#0000cd"/>
<rect x="426.28" y="307.04" width="34.34" height="8.96" fill="#0000c8"/>
<rect x="460.12" y="307.04" width="8.96" height="8.96" fill="#0000c4"/>
<rect x="468.58" y="307.04" width="8.96" height="8.96" fill="#0000bf"/>
<rect x="477.04" y="307.04" width="127.40" height="8.96" fill="#0000b6"/>
<rect x="603.94" y="307.04" width="34.34" height="8.96" fill="#0000b2"/>
<rect x="637.78" y="307.04" width="8.96" height="8.96" fill="#0000b6"/>
<rect x="646.24" y="307.04" width="8.96" height="8.96" fill="#0000bf"/>
<rect x="654.70" y="307.04" width="8.96" height="8.96" fill="#0000c8"/>
<rect x="663.16" y="307.04" width="8.96" height="8.96" fill="#0000cd"/>
<rect x="671.62" y="307.04" width="8.96" height="8.96" fill="#0000d6"/>
<rect x="680.08" y="307.04" width="8.96" height="8.96" fill="#0000da"/>
<rect x="688.54" y="307.04" width="8.96" height="8.96" fill="#0000df"/>
<rect x="697.00" y="307.04" width="17.50" height="8.96" fill="#0000e8"/>
<rect x="105.00" y="315.50" width="8.76" height="8.96" fill="#0000f6"/>
<rect x="113.26" y="315.50" width="8.96" height="8.96" fill="#0000ff"/>
<rect x="121.72" y="315.50" width="8.96" height="8.96" fill="#0004ff"/>
<rect x="130.18" y="315.50" width="8.96" height="8.96" fill="#000cff"/>
<rect x="138.64" y="315.50" width="8.96" height="8.96" fill="#0010ff"/>
<rect x="147.10" y="315.50" width="25.88" height="8.96" fill="#0014ff"/>
<rect x="172.48" y="315.50" width="42.80" height="8.96" fill="#0018ff"/>
<rect x="214.78" y="315.50" width="8.96" height="8.96" fill="#0014ff"/>
<rect x="223.24" y="315.50" width="8.96" height="8.96" fill="#0010ff"/>
<rect x="231.70" y="315.50" width="8.96" height="8.96" fill="#000cff"/>
<rect x="240.16" y="315.50" width="8.96" height="8.96" fill="#0008ff"/>
<rect x="248.62" y="315.50" width="8.96" height="8.96" fill="#0004ff"/>
<rect x="257.08" y="315.50" width="17.42" height="8.96" fill="#0000ff"/>
<rect x="274.00" y="315.50" width="8.96" height="8.96" fill="#0000f1"/>
<rect x="282.46" y="315.50" width="8.96" height="8.96" fill="#0000e3"/>
<rect x="290.92" y="315.50" width="8.96" height="8.96" fill="#0000cd"/>
<rect x="299.38" y="315.50" width="8.96" height="8.96" fill="#0000b2"/>
<rect x="307.84" y="315.50" width="8.96" height="8.96" fill="#00009b"/>
<rect x="316.30" y="315.50" width="17.42" height="8.96" fill="#000092"/>
<rect x="333.22" y="315.50" width="17.42" height="8.96" fill="#00009f"/>
<rect x="350.14" y="315.50" width="8.96" height="8.96" fill="#0000ad"/>
<rect x="358.60" y="315.50" width="8.96" height="8.96" fill="#0000b6"/>
<rect x="367.06" y="315.50" width="51.26" height="8.96" fill="#0000c8"/>
<rect x="417.82" y="315.50" width="42.80" height="8.96" fill="#0000c4"/>
<rect x="460.12" y="315.50" width="17.42" height="8.96" fill="#0000bf"/>
<rect x="477.04" y="315.50" width="161.24" height="8.96" fill="#0000b6"/>
<rect x="637.78" y="315.50" width="8.96" height="8.96" fill="#0000bb"/>
<rect x="646.24" y="315.50" width="8.96" height="8.96" fill="#0000bf"/>
<rect x="654.70" y="315.50" width="8.96" height="8.96" fill="#0000c8"/>
<rect x="663.16" y="315.50" width="8.96" height="8.96" fill="#0000cd"/>
<rect x="671.62" y="315.50" width="8.96" height="8.96" fill="#0000d1"/>
<rect x="680.08" y="315.50" width="8.96" height="8.96" fill="#0000da"/>
<rect x="688.54" y="315.50" width="8.96" height="8.96" fill="#0000df"/>
<rect x="697.00" y="315.50" width="8.96" height="8.96" fill="#0000e3"/>
<rect x="705.46" y="315.50" width="9.04" height="8.96" fill="#0000e8"/>
<rect x="105.00" y="323.96" width="8.76" height="8.96" fill="#0000ff"/>
<rect x="113.26" y="323.96" width="8.96" height="8.96" fill="#0004ff"/>
<rect x="121.72" y="323.96" width="8.96" height="8.96" fill="#0018ff"/>
<rect x="130.18" y="323.96" width="8.96" height="8.96" fill="#0020ff"/>
<rect x="138.64" y="323.96" width="42.80" height="8.96" fill="#0024ff"/>
<rect x="180.94" y="323.96" width="8.96" height="8.96" fill="#0020ff"/>
<rect x="189.40" y="323.96" width="8.96" height="8.96" fill="#0018ff"/>
<rect x="197.86" y="323.96" width="8.96" height="8.96" fill="#0014ff"/>
<rect x="206.32" y="323.96" width="8.96" height="8.96" fill="#0010ff"/>
<rect x="214.78" y="323.96" width="8.96" height="8.96" fill="#000cff"/>
<rect x="223.24" y="323.96" width="8.96" height="8.96" fill="#0008ff"/>
<rect x="231.70" y="323.96" width="25.88" height="8.96" fill="#0000ff"/>
<rect x="257.08" y="323.96" width="8.96" height="8.96" fill="#0000fa"/>
<rect x="265.54" y="323.96" width="8.96" height="8.96" fill="#0000ed"/>
<rect x="274.00" y="323.96" width="8.96" height="8.96" fill="#0000e8"/>
<rect x="282.46" y="323.96" width="8.96" height="8.96" fill="#0000df"/>
<rect x="290.92" y="323.96" width="8.96" height="8.96" fill="#0000c8"/>
<rect x="299.38" y="323.96" width="8.96" height="8.96" fill="#0000a4"/>
<rect x="307.84" y="323.96" width="25.88" height="8.96" fill="#000096"/>
<rect x="333.22" y="323.96" width="25.88" height="8.96" fill="#0000ad"/>
<rect x="358.60" y="323.96" width="118.94" height="8.96" fill="#0000bf"/>
<rect x="477.04" y="323.96" width="17.42" height="8.96" fill="#0000b6"/>
<rect x="493.96" y="323.96" width="152.78" height="8.96" fill="#0000bb"/>
<rect x="646.24" y="323.96" width="8.96" height="8.96" fill="#0000bf"/>
<rect x="654.70" y="323.96" width="8.96" height="8.96" fill="#0000c4"/>
<rect x="663.16" y="323.96" width="8.96" height="8.96" fill="#0000c8"/>
<rect x="671.62" y="323.96" width="8.96" height="8.96" fill="#0000cd"/>
<rect x="680.08" y="323.96" width="8.96" height="8.96" fill="#0000d1"/>
<rect x="688.54" y="323.96" width="8.96" height="8.96" fill="#0000d6"/>
<rect x="697.00" y="323.96" width="17.50" height="8.96" fill="#0000df"/>
<rect x="105.00" y="332.42" width="8.76" height="8.96" fill="#0000ff"/>
<rect x="113.26" y="332.42" width="8.96" height="8.96" fill="#0004ff"/>
<rect x="121.72" y="332.42" width="8.96" height="8.96" fill="#0018ff"/>
<rect x="130.18" y="332.42" width="42.80" height="8.96" fill="#0020ff"/>
<rect x="172.48" y="332.42" width="8.96" height="8.96" fill="#001cff"/>
<rect x="180.94" y="332.42" width="8.96" height="8.96" fill="#0014ff"/>
<rect x="189.40" y="332.42" width="8.96" height="8.96" fill="#0010ff"/>
<rect x="197.86" y="332.42" width="8.96" height="8.96" fill="#000cff"/>
<rect x="206.32" y="332.42" width="8.96" height="8.96" fill="#0004ff"/>
<rect x="214.78" y="332.42" width="25.88" height="8.96" fill="#0000ff"/>
<rect x="240.16" y="332.42" width="8.96" height="8.96" fill="#0000fa"/>
<rect x="248.62" y="332.42" width="8.96" height="8.96" fill="#0000f1"/>
<rect x="257.08" y="332.42" width="8.96" height="8.96" fill="#0000ed"/>
<rect x="265.54" y="332.42" width="8.96" height="8.96" fill="#0000e8"/>
<rect x="274.00" y="332.42" width="8.96" height="8.96" fill="#0000e3"/>
<rect x="282.46" y="332.42" width="8.96" height="8.96" fill="#0000df"/>
<rect x="290.92" y="332.42" width="8.96" height="8.96" fill="#0000c4"/>
<rect x="299.38" y="332.42" width="8.96" height="8.96" fill="#0000a8"/>
<rect x="307.84" y="332.42" width="25.88" height="8.96" fill="#00009b"/>
<rect x="333.22" y="332.42" width="25.88" height="8.96" fill="#0000b2"/>
<rect x="358.60" y="332.42" width="118.94" height="8.96" fill="#0000b6"/>
<rect x="477.04" y="332.42" width="169.70" height="8.96" fill="#0000bb"/>
<rect x="646.24" y="332.42" width="8.96" height="8.96" fill="#0000bf"/>
<rect x="654.70" y="332.42" width="8.96" height="8.96" fill="#0000c4"/>
<rect x="663.16" y="332.42" width="8.96" height="8.96" fill="#0000c8"/>
<rect x="671.62" y="332.42" width="8.96" height="8.96" fill="#0000cd"/>
<rect x="680.08" y="332.42" width="8.96" height="8.96" fill="#0000d1"/>
<rect x="688.54" y="332.42" width="8.96" height="8.96" fill="#0000d6"/>
<rect x="697.00" y="332.42" width="8.96" height="8.96" fill="#0000da"/>
<rect x="705.46" y="332.42" width="9.04" height="8.96" fill="#0000df"/>
<rect x="105.00" y="340.88" width="17.22" height="8.96" fill="#0000ff"/>
<rect x="121.72" y="340.88" width="8.96" height="8.96" fill="#0004ff"/>
<rect x="130.18" y="340.88" width="42.80" height="8.96" fill="#0008ff"/>
<rect x="172.48" y="340.88" width="8.96" height="8.96" fill="#0004ff"/>
<rect x="180.94" y="340.88" width="34.34" height="8.96" fill="#0000ff"/>
<rect x="214.78" y="340.88" width="8.96" height="8.96" fill="#0000f6"/>
<rect x="223.24" y="340.88" width="17.42" height="8.96" fill="#0000f1"/>
<rect x="240.16" y="340.88" width="8.96" height="8.96" fill="#0000ed"/>
<rect x="248.62" y="340.88" width="8.96" height="8.96" fill="#0000e8"/>
<rect x="257.08" y="340.88" width="8.96" height="8.96" fill="#0000e3"/>
<rect x="265.54" y="340.88" width="17.42" height="8.96" fill="#0000df"/>
<rect x="282.46" y="340.88" width="8.96" height="8.96" fill="#0000da"/>
<rect x="290.92" y="340.88" width="8.96" height="8.96" fill="#0000cd"/>
<rect x="299.38" y="340.88" width="8.96" height="8.96" fill="#0000ad"/>
<rect x="307.84" y="340.88" width="25.88" height="8.96" fill="#00009f"/>
<rect x="333.22" y="340.88" width="17.42" height="8.96" fill="#0000a4"/>
<rect x="350.14" y="340.88" width="8.96" height="8.96" fill="#0000a8"/>
<rect x="358.60" y="340.88" width="8.96" height="8.96" fill="#0000b2"/>
<rect x="367.06" y="340.88" width="127.40" height="8.96" fill="#0000b6"/>
<rect x="493.96" y="340.88" width="152.78" height="8.96" fill="#0000bb"/>
<rect x="646.24" y="340.88" width="8.96" height="8.96" fill="#0000bf"/>
<rect x="654.70" y="340.88" width="8.96" height="8.96" fill="#0000c4"/>
<rect x="663.16" y="340.88" width="8.96" height="8.96" fill="#0000c8"/>
<rect x="671.62" y="340.88" width="8.96" height="8.96" fill="#0000cd"/>
<rect x="680.08" y="340.88" width="8.96" height="8.96" fill="#0000d1"/>
<rect x="688.54" y="340.88" width="8.96" height="8.96" fill="#0000d6"/>
<rect x="697.00" y="340.88" width="8.96" height="8.96" fill="#0000da"/>
<rect x="705.46" y="340.88" width="9.04" height="8.96" fill="#0000df"/>
<rect x="105.00" y="349.34" width="17.22" height="8.96" fill="#0000e8"/>
<rect x="121.72" y="349.34" width="59.72" height="8.96" fill="#0000ed"/>
<rect x="180.94" y="349.34" width="34.34" height="8.96" fill="#0000e8"/>
<rect x="214.78" y="349.34" width="8.96" height="8.96" fill="#0000e3"/>
<rect x="223.24" y="349.34" width="34.34" height="8.96" fill="#0000df"/>
<rect x="257.08" y="349.34" width="8.96" height="8.96" fill="#0000da"/>
<rect x="265.54" y="349.34" width="8.96" height="8.96" fill="#0000d6"/>
<rect x="274.00" y="349.34" width="17.42" height="8.96" fill="#0000d1"/>
<rect x="290.92" y="349.34" width="8.96" height="8.96" fill="#0000c4"/>
<rect x="299.38" y="349.34" width="8.96" height="8.96" fill="#0000b2"/>
<rect x="307.84" y="349.34" width="8.96" height="8.96" fill="#0000a8"/>
<rect x="316.30" y="349.34" width="25.88" height="8.96" fill="#0000a4"/>
<rect x="341.68" y="349.34" width="17.42" height="8.96" fill="#0000a8"/>
<rect x="358.60" y="349.34" width="8.96" height="8.96" fill="#0000b2"/>
<rect x="367.06" y="349.34" width="271.22" height="8.96" fill="#0000b6"/>
<rect x="637.78" y="349.34" width="17.42" height="8.96" fill="#0000bb"/>
<rect x="654.70" y="349.34" width="8.96" height="8.96" fill="#0000bf"/>
<rect x="663.16" y="349.34" width="8.96" height="8.96" fill="#0000c4"/>
<rect x="671.62" y="349.34" width="17.42" height="8.96" fill="#0000c8"/>
<rect x="688.54" y="349.34" width="8.96" height="8.96" fill="#0000cd"/>
<rect x="697.00" y="349.34" width="8.96" height="8.96" fill="#0000d1"/>
<rect x="705.46" y="349.34" width="9.04" height="8.96" fill="#0000d6"/>
<rect x="105.00" y="357.80" width="110.28" height="8.96" fill="#0000d6"/>
<rect x="214.78" y="357.80" width="42.80" height="8.96" fill="#0000d1"/>
<rect x="257.08" y="357.80" width="17.42" height="8.96" fill="#0000cd"/>
<rect x="274.00" y="357.80" width="8.96" height="8.96" fill="#0000c8"/>
<rect x="282.46" y="357.80" width="8.96" height="8.96" fill="#0000c4"/>
<rect x="290.92" y="357.80" width="8.96" height="8.96" fill="#0000bf"/>
<rect x="299.38" y="357.80" width="8.96" height="8.96" fill="#0000b2"/>
<rect x="307.84" y="357.80" width="51.26" height="8.96" fill="#0000ad"/>
<rect x="358.60" y="357.80" width="8.96" height="8.96" fill="#0000b2"/>
<rect x="367.06" y="357.80" width="279.68" height="8.96" fill="#0000b6"/>
<rect x="646.24" y="357.80" width="17.42" height="8.96" fill="#0000bb"/>
<rect x="663.16" y="357.80" width="8.96" height="8.96" fill="#0000bf"/>
<rect x="671.62" y="357.80" width="17.42" height="8.96" fill="#0000c4"/>
<rect x="688.54" y="357.80" width="8.96" height="8.96" fill="#0000c8"/>
<rect x="697.00" y="357.80" width="17.50" height="8.96" fill="#0000cd"/>
<rect x="105.00" y="366.26" width="135.66" height="8.96" fill="#0000c4"/>
<rect x="240.16" y="366.26" width="51.26" height="8.96" fill="#0000bf"/>
<rect x="290.92" y="366.26" width="8.96" height="8.96" fill="#0000bb"/>
<rect x="299.38" y="366.26" width="8.96" height="8.96" fill="#0000b6"/>
<rect x="307.84" y="366.26" width="8.96" height="8.96" fill="#0000b2"/>
<rect x="316.30" y="366.26" width="34.34" height="8.96" fill="#0000ad"/>
<rect x="350.14" y="366.26" width="296.60" height="8.96" fill="#0000b2"/>
<rect x="646.24" y="366.26" width="17.42" height="8.96" fill="#0000b6"/>
<rect x="663.16" y="366.26" width="8.96" height="8.96" fill="#0000bb"/>
<rect x="671.62" y="366.26" width="17.42" height="8.96" fill="#0000bf"/>
<rect x="688.54" y="366.26" width="17.42" height="8.96" fill="#0000c4"/>
<rect x="705.46" y="366.26" width="9.04" height="8.96" fill="#0000c8"/>
<rect x="105.00" y="374.72" width="8.76" height="8.96" fill="#0000bb"/>
<rect x="113.26" y="374.72" width="152.78" height="8.96" fill="#0000b6"/>
<rect x="265.54" y="374.72" width="42.80" height="8.96" fill="#0000b2"/>
<rect x="307.84" y="374.72" width="220.46" height="8.96" fill="#0000ad"/>
<rect x="527.80" y="374.72" width="127.40" height="8.96" fill="#0000b2"/>
<rect x="654.70" y="374.72" width="25.88" height="8.96" fill="#0000b6"/>
<rect x="680.08" y="374.72" width="25.88" height="8.96" fill="#0000bb"/>
<rect x="705.46" y="374.72" width="9.04" height="8.96" fill="#0000bf"/>
<rect x="105.00" y="383.18" width="110.28" height="8.07" fill="#0000b2"/>
<rect x="214.78" y="383.18" width="440.42" height="8.07" fill="#0000ad"/>
<rect x="654.70" y="383.18" width="25.88" height="8.07" fill="#0000b2"/>
<rect x="680.08" y="383.18" width="34.42" height="8.07" fill="#0000b6"/>
</g>
<g clip-path="url(#ax)">
<path d="M401.8 183.1 L408.3 184.3 L411.7 183.1 L416.7 181.4 L425.2 181.1 L428.5 180.6 L430.2 181.1 L429.4 183.6 L428.5 186.1 L430.2 187.5 L433.6 188.0 L437.3 189.0 L438.6 190.7 L442.0 192.0 L444.5 192.2 L445.4 191.2 L445.7 189.0 L448.7 188.0 L450.7 188.7 L453.8 190.0 L457.1 190.7 L460.5 191.4 L463.9 190.4 L466.1 190.9 L466.4 192.9 L466.7 194.6 L468.1 196.6 L469.8 199.6 L471.4 203.0 L474.0 207.2 L474.3 210.4 L476.5 213.1 L478.2 217.3 L480.7 219.0 L483.2 221.5 L484.6 222.3 L484.1 224.0 L485.8 225.7 L489.1 225.2 L492.5 224.5 L497.9 223.4 L497.7 225.9 L495.9 229.9 L494.2 232.5 L492.5 235.8 L489.1 239.2 L485.8 241.7 L482.4 245.1 L480.7 246.8 L479.0 249.3 L478.2 251.8 L477.8 254.9 L478.2 257.7 L479.9 261.1 L480.0 267.8 L479.0 271.2 L474.0 273.4 L470.4 276.7 L471.4 280.4 L471.3 283.8 L467.2 286.3 L466.9 289.7 L465.6 292.2 L463.9 293.9 L460.5 298.1 L457.1 300.2 L455.0 300.7 L448.7 301.0 L445.4 302.0 L442.7 301.2 L442.0 298.1 L440.3 293.9 L439.5 291.4 L436.9 288.0 L436.1 282.1 L433.6 277.1 L431.6 272.4 L431.9 269.5 L434.4 264.4 L433.9 258.6 L432.4 253.5 L431.9 251.5 L428.5 247.6 L426.8 244.6 L427.7 241.7 L428.0 237.5 L426.0 235.8 L423.5 236.0 L421.0 234.1 L418.9 232.8 L417.4 232.6 L413.4 233.3 L408.3 235.3 L405.0 234.6 L399.1 236.0 L395.7 234.1 L392.3 231.8 L389.5 229.1 L388.6 227.4 L386.5 224.9 L383.6 222.3 L382.2 218.6 L383.9 216.5 L384.3 211.4 L383.1 208.0 L384.8 203.8 L387.3 199.6 L389.8 196.8 L392.3 195.4 L394.9 193.7 L395.2 190.4 L397.4 187.3 L400.3 186.1Z M494.7 263.6 L496.7 269.5 L495.0 273.7 L493.3 278.8 L491.1 285.5 L487.4 286.3 L485.2 283.0 L484.6 279.6 L486.6 276.2 L485.8 272.0 L489.1 270.0 L492.5 266.1Z M281.4 228.7 L284.6 225.5 L285.8 224.7 L288.8 224.0 L291.0 222.5 L291.7 224.9 L291.2 226.6 L292.2 227.4 L293.9 224.0 L293.9 222.9 L296.4 225.2 L298.9 225.7 L303.1 226.2 L307.4 225.4 L309.0 227.1 L310.7 229.1 L313.2 231.6 L315.8 233.3 L320.8 233.6 L324.2 235.5 L325.9 236.3 L327.5 240.4 L327.5 243.4 L330.1 244.6 L332.6 244.6 L336.8 247.6 L341.9 248.3 L346.1 249.3 L349.1 251.5 L352.5 252.7 L353.1 256.0 L352.8 258.6 L349.4 262.8 L346.9 265.3 L346.1 268.7 L346.1 273.7 L344.4 277.1 L342.7 280.4 L341.0 282.1 L337.6 282.5 L333.4 283.8 L330.1 286.8 L329.9 290.6 L327.5 293.9 L324.2 297.6 L321.7 300.7 L319.1 302.2 L317.1 302.2 L314.9 301.5 L313.4 300.7 L315.4 304.4 L314.9 307.4 L312.4 308.7 L307.4 309.1 L306.8 312.1 L302.3 312.4 L304.0 315.0 L301.8 316.7 L301.5 319.2 L298.1 320.9 L300.6 323.4 L301.0 324.2 L297.8 327.6 L295.6 330.1 L296.6 331.6 L296.4 333.5 L302.0 335.9 L298.9 336.9 L293.9 336.0 L290.5 334.3 L287.2 331.8 L285.5 328.4 L284.6 324.2 L286.3 320.9 L288.8 317.5 L287.5 314.1 L288.0 310.8 L288.0 306.0 L289.7 302.3 L291.2 299.0 L291.4 293.9 L292.2 288.9 L293.0 283.8 L293.6 277.1 L293.4 274.2 L291.4 272.5 L287.2 270.3 L283.5 266.6 L281.8 263.6 L279.6 259.4 L277.4 255.2 L275.0 253.5 L274.9 251.0 L276.6 249.1 L277.4 247.6 L275.5 247.1 L275.5 245.1 L277.1 242.6 L277.9 241.7 L279.1 240.9 L281.3 237.5 L281.6 234.1 L281.3 231.6 L280.6 231.3Z M251.8 111.7 L263.6 111.5 L265.3 108.3 L255.2 107.0 L250.1 109.0Z M302.3 139.2 L297.3 138.5 L291.4 136.1 L287.2 134.8 L281.3 135.1 L280.4 134.3 L282.1 133.1 L288.0 133.1 L288.8 129.7 L285.5 128.4 L279.6 126.4 L278.7 125.0 L273.7 125.5 L267.8 125.5 L263.6 124.7 L260.2 122.2 L261.1 119.6 L268.6 119.3 L275.4 119.3 L280.4 120.5 L283.8 121.0 L290.5 123.0 L297.3 125.2 L298.9 127.2 L304.8 129.7 L308.2 131.2 L304.8 133.9 L302.3 136.8Z M200.5 121.8 L203.8 123.5 L208.9 123.0 L211.4 121.3 L216.5 119.6 L214.8 118.4 L208.1 117.9 L203.0 119.1Z M236.7 116.8 L246.8 117.1 L248.4 114.6 L238.4 114.1Z M268.6 206.5 L272.0 204.7 L274.5 204.5 L278.7 205.7 L282.1 207.2 L285.5 208.5 L286.8 209.4 L281.3 209.9 L281.8 208.5 L279.6 208.0 L277.1 206.7 L273.7 205.7 L270.3 206.7Z M277.1 116.3 L273.7 117.8 L258.5 117.6 L256.9 114.9 L263.6 114.6 L275.4 115.4Z M307.4 104.5 L293.9 103.6 L280.4 103.6 L267.0 105.3 L260.2 107.0 L265.3 109.5 L268.6 112.0 L263.6 114.2 L277.1 114.9 L280.4 113.7 L285.5 111.2 L292.2 109.2 L300.6 107.3Z M288.8 111.7 L297.3 108.7 L305.7 106.2 L319.1 104.8 L336.0 104.0 L356.2 102.6 L369.6 103.6 L378.0 105.3 L391.5 106.2 L383.1 108.7 L380.6 112.0 L379.7 114.6 L378.0 117.1 L374.7 120.5 L371.3 122.2 L374.7 124.7 L367.9 127.2 L361.2 128.6 L356.2 130.6 L350.3 132.6 L344.4 133.9 L341.0 137.3 L339.3 141.5 L337.8 142.7 L330.9 140.7 L327.5 138.2 L325.0 135.6 L321.7 131.4 L322.5 128.9 L325.9 126.4 L320.0 124.7 L319.1 121.3 L315.8 117.9 L310.7 115.4 L300.6 115.1 L293.9 113.7Z M286.5 212.4 L289.2 209.9 L293.9 210.1 L296.6 212.1 L293.9 212.6 L291.4 213.6 L289.2 212.8Z M370.5 133.1 L374.7 131.6 L381.4 131.9 L387.3 131.9 L389.0 133.9 L386.5 135.1 L380.6 136.6 L376.4 136.0 L373.5 135.6 L374.7 134.3 L371.3 134.1Z M279.9 212.4 L282.1 212.2 L283.3 213.1 L281.3 213.4Z M214.8 116.8 L223.2 117.9 L233.3 117.1 L233.3 115.4 L226.6 114.6 L218.2 114.9Z M281.4 228.7 L277.9 227.2 L275.4 228.6 L273.4 228.2 L272.0 226.6 L270.8 224.9 L271.2 222.3 L271.7 218.3 L269.5 216.8 L267.0 216.6 L263.6 217.0 L262.1 216.6 L263.3 213.9 L263.6 212.2 L264.4 210.6 L265.6 207.7 L263.6 207.0 L259.7 207.9 L259.4 210.1 L257.7 212.2 L255.2 212.4 L252.7 212.8 L250.5 211.7 L249.6 210.9 L247.9 208.0 L247.1 205.8 L247.3 203.0 L248.1 199.6 L247.9 196.6 L251.0 194.9 L252.3 193.9 L255.2 193.4 L258.5 194.1 L261.2 194.4 L261.9 192.5 L263.6 192.4 L267.0 192.4 L268.6 193.4 L270.3 192.9 L272.3 194.6 L272.5 196.6 L273.7 198.8 L275.0 201.0 L276.6 200.8 L277.1 197.9 L276.1 195.4 L274.9 192.9 L275.0 190.4 L277.1 188.3 L279.6 186.5 L281.3 185.6 L283.0 185.0 L284.6 184.0 L283.8 181.1 L284.6 179.4 L287.2 176.9 L287.2 175.2 L290.5 174.4 L293.9 173.2 L292.7 171.5 L293.6 170.0 L296.4 168.6 L298.9 168.0 L300.6 167.3 L303.1 166.8 L300.6 169.8 L304.8 168.3 L309.0 167.1 L311.1 165.9 L309.0 164.3 L305.7 165.9 L303.1 165.1 L302.3 162.9 L303.5 161.2 L299.8 160.7 L296.4 161.9 L293.9 164.3 L295.6 161.7 L299.8 158.9 L305.7 158.7 L310.7 158.7 L313.2 157.0 L316.6 156.3 L318.0 155.0 L317.5 153.3 L314.9 151.6 L310.7 149.9 L308.2 147.4 L306.5 144.9 L303.1 141.9 L301.5 143.2 L297.3 144.9 L295.6 144.4 L293.9 142.4 L291.4 140.3 L288.8 138.7 L281.3 138.2 L280.4 140.7 L281.3 142.4 L279.6 144.5 L282.1 146.6 L283.0 148.6 L279.6 150.8 L277.9 151.6 L278.7 155.0 L278.7 156.7 L276.2 157.0 L273.7 155.0 L273.2 150.8 L268.6 150.3 L263.6 148.3 L260.2 147.4 L256.0 147.1 L253.2 144.4 L252.3 142.4 L255.2 139.8 L259.4 137.3 L263.6 135.6 L265.3 133.4 L267.0 131.4 L270.3 131.8 L273.7 129.7 L274.5 127.2 L269.5 125.9 L267.0 128.9 L263.6 128.0 L260.2 127.2 L256.9 125.5 L252.7 122.3 L250.1 124.7 L250.1 128.0 L246.8 128.9 L241.7 129.2 L236.7 128.9 L229.9 129.7 L226.6 128.9 L220.7 128.9 L218.2 127.5 L213.1 126.7 L206.4 125.9 L201.3 125.5 L196.3 125.0 L191.2 126.0 L186.2 126.9 L181.1 127.2 L174.4 126.2 L167.7 125.4 L159.2 124.7 L154.2 124.0 L148.3 123.3 L142.4 124.7 L137.4 126.7 L131.0 128.4 L135.7 129.7 L139.1 130.9 L134.8 131.4 L129.0 132.9 L133.3 134.8 L139.1 135.1 L140.7 136.5 L134.8 137.6 L132.3 139.8 L134.0 141.5 L138.2 142.7 L139.1 144.5 L144.9 144.9 L146.6 146.6 L142.4 149.1 L137.4 150.8 L134.3 151.5 L139.1 150.8 L144.9 149.1 L149.2 146.9 L152.5 145.2 L153.4 143.2 L157.6 141.0 L159.2 140.3 L156.7 143.5 L160.9 142.4 L165.1 141.0 L169.3 142.4 L176.1 142.9 L180.3 144.9 L183.7 146.6 L186.2 149.1 L188.7 150.8 L192.1 151.6 L194.6 154.1 L196.3 156.7 L198.0 158.4 L202.2 160.4 L204.7 160.9 L205.0 162.2 L201.8 161.9 L203.0 165.4 L203.0 169.3 L202.2 171.3 L202.5 175.4 L203.5 177.7 L205.5 179.7 L206.4 181.8 L208.6 185.1 L212.3 186.1 L214.5 188.5 L216.5 192.0 L218.2 194.6 L219.8 196.6 L218.2 196.8 L222.4 201.3 L223.2 202.1 L226.7 204.8 L227.4 203.8 L225.7 202.1 L224.0 198.8 L221.5 195.4 L219.0 192.9 L218.5 190.0 L221.5 190.9 L222.4 193.2 L224.9 196.2 L227.4 198.8 L229.9 201.3 L232.5 204.2 L234.1 207.2 L234.1 209.2 L235.8 211.1 L240.0 213.1 L243.6 215.1 L248.4 216.8 L251.8 216.1 L254.3 217.3 L256.4 218.8 L259.4 220.0 L262.8 221.2 L264.4 221.5 L264.8 222.3 L267.0 224.0 L267.5 225.7 L267.3 226.6 L268.6 226.9 L269.0 227.4 L270.8 228.7 L272.0 229.6 L272.9 229.4 L274.5 230.6 L276.2 231.3 L277.1 229.4 L277.9 228.2 L279.6 229.1 L280.1 230.8 L280.6 231.3Z M311.9 163.1 L317.5 164.6 L322.5 164.9 L323.0 163.2 L321.7 161.7 L321.2 159.7 L318.0 159.2 L318.3 156.5 L315.8 157.5 L314.1 160.0 L312.4 161.7Z M240.0 122.2 L248.4 122.7 L249.3 119.6 L243.4 119.0Z M251.0 121.8 L259.4 121.0 L259.4 118.8 L251.8 118.8Z M265.3 135.6 L270.3 137.3 L275.4 136.5 L276.2 134.8 L270.3 132.6 L265.3 133.9Z M195.8 157.9 L201.3 159.2 L203.8 161.7 L201.3 161.4 L197.1 159.2Z M240.9 126.4 L235.0 127.5 L226.6 127.9 L219.8 126.9 L214.8 125.5 L213.1 123.3 L218.2 121.3 L213.9 120.6 L219.8 120.0 L229.9 120.1 L235.0 120.8 L235.8 123.8 L240.9 125.0Z M91.9 374.8 L108.8 374.8 L125.6 375.6 L142.4 374.8 L159.2 372.2 L176.1 369.7 L192.9 368.5 L209.7 368.0 L226.6 368.9 L243.4 365.5 L251.8 366.3 L260.2 366.0 L277.1 366.8 L287.2 364.6 L297.3 358.8 L300.6 355.4 L305.7 352.0 L314.1 350.0 L315.8 350.3 L310.7 352.9 L307.4 356.2 L304.0 358.8 L307.4 363.0 L309.0 367.2 L307.4 370.5 L310.7 370.5 L327.5 373.9 L344.4 374.8 L352.8 373.9 L364.6 371.4 L378.0 367.2 L391.5 363.8 L403.3 362.1 L411.7 360.4 L428.5 361.3 L445.4 361.3 L462.2 360.4 L470.6 359.6 L479.0 358.8 L487.4 357.1 L495.9 355.4 L504.3 354.5 L512.7 356.7 L521.1 357.1 L529.5 358.8 L534.6 360.4 L543.0 358.4 L546.3 357.1 L554.8 355.9 L563.2 355.4 L571.6 354.5 L580.0 354.2 L588.4 355.0 L596.8 354.5 L605.2 355.4 L613.7 355.9 L622.1 355.0 L630.5 354.5 L638.9 354.5 L647.3 355.7 L655.7 356.2 L664.1 358.4 L672.6 359.6 L681.0 361.3 L689.4 362.6 L697.8 363.8 L699.5 366.3 L692.8 369.7 L689.4 373.9 L697.8 374.8 L714.6 374.8 L731.5 374.8 L731.5 403.4 L91.9 403.4Z M602.7 280.4 L604.4 279.6 L607.8 278.1 L612.0 277.1 L616.2 275.4 L617.5 272.9 L619.6 272.4 L622.1 268.7 L624.6 267.0 L627.1 268.3 L629.6 268.5 L631.0 265.0 L631.8 264.3 L634.7 262.8 L639.7 263.6 L641.9 263.9 L640.6 266.1 L639.7 268.7 L643.1 270.3 L646.5 272.9 L649.0 270.3 L650.0 266.1 L651.5 261.4 L653.2 266.1 L656.2 268.7 L657.4 274.6 L659.9 276.2 L663.3 279.6 L665.5 283.0 L669.2 286.3 L670.0 290.6 L668.9 295.6 L666.7 299.8 L664.7 304.0 L664.1 306.6 L659.9 307.4 L657.9 309.1 L655.2 307.9 L652.4 308.7 L649.0 307.7 L646.8 305.7 L646.1 303.7 L644.3 303.2 L644.8 302.0 L643.6 298.1 L640.3 302.0 L637.6 299.0 L633.0 296.4 L628.8 296.6 L623.8 297.8 L620.4 299.8 L616.7 300.5 L612.8 301.2 L610.3 302.3 L606.9 302.0 L605.2 301.2 L606.4 297.3 L605.2 293.9 L603.9 290.6 L602.7 287.2 L602.7 283.8Z M588.8 246.1 L591.3 247.6 L590.6 248.6 L588.9 246.9Z M595.1 240.9 L596.8 240.5 L599.0 239.2 L601.9 237.8 L604.4 235.3 L606.9 232.8 L608.6 231.6 L611.6 234.1 L610.3 235.8 L609.8 238.3 L611.6 241.7 L609.5 243.4 L607.8 245.9 L607.3 249.3 L604.4 250.1 L601.9 248.8 L599.4 248.8 L597.2 247.6 L596.8 245.4 L595.1 243.4Z M466.1 190.9 L469.3 190.7 L470.6 187.8 L472.3 183.1 L472.6 181.8 L469.8 181.6 L466.4 182.6 L463.2 181.4 L460.5 181.9 L458.0 181.1 L456.0 178.6 L456.6 176.9 L455.8 176.0 L458.0 175.4 L460.7 174.5 L460.8 174.0 L464.7 174.0 L468.1 172.7 L470.9 172.7 L473.1 173.9 L475.7 174.4 L479.0 174.4 L481.5 173.5 L481.5 171.8 L478.5 170.1 L474.8 168.1 L473.3 167.1 L475.7 165.9 L477.3 163.9 L474.8 164.3 L470.6 165.6 L471.4 167.1 L471.4 167.6 L468.4 168.6 L466.4 166.9 L468.1 165.9 L465.6 165.1 L463.4 165.1 L461.7 167.3 L459.8 169.6 L458.7 171.0 L458.3 172.0 L459.2 173.5 L460.3 174.0 L458.8 174.4 L457.1 175.0 L455.6 175.5 L455.5 174.7 L452.9 174.5 L451.8 175.7 L452.1 176.0 L450.2 175.2 L449.9 176.9 L450.7 177.7 L452.1 179.9 L450.4 179.6 L450.7 180.6 L450.1 181.9 L449.4 182.1 L448.2 181.4 L447.4 179.7 L447.9 178.9 L446.5 178.1 L445.7 176.9 L444.4 175.4 L444.5 173.2 L442.8 172.0 L440.3 171.0 L437.8 169.3 L436.1 167.3 L435.1 168.0 L434.8 166.6 L432.6 166.9 L432.4 168.8 L434.4 170.0 L435.6 172.0 L438.6 172.8 L439.5 173.9 L442.8 175.9 L440.3 175.2 L439.5 176.5 L440.5 177.7 L438.6 179.4 L438.1 179.6 L438.6 178.1 L438.1 176.0 L435.8 174.7 L433.6 173.9 L432.2 173.0 L430.2 172.0 L429.0 170.1 L428.2 169.1 L426.5 168.6 L424.3 169.6 L421.8 170.8 L419.8 170.3 L417.6 170.5 L416.7 171.8 L417.1 172.8 L415.4 173.7 L413.0 174.7 L411.2 176.9 L412.0 178.1 L410.5 180.1 L408.3 181.4 L404.3 181.6 L402.6 182.6 L401.1 181.9 L399.2 180.8 L396.7 181.1 L396.9 178.6 L395.7 178.2 L396.7 175.7 L397.1 174.0 L396.7 171.8 L396.0 170.8 L398.2 169.8 L402.1 170.0 L405.3 170.1 L408.7 170.3 L409.5 168.5 L409.8 166.4 L408.0 164.3 L407.0 163.4 L404.1 162.7 L403.8 161.7 L406.7 161.2 L409.0 161.4 L408.8 159.7 L409.8 160.2 L412.0 160.0 L414.2 159.0 L414.6 157.7 L417.1 157.0 L418.8 155.8 L419.8 154.1 L421.8 153.3 L423.8 153.3 L426.0 152.8 L426.5 151.1 L425.5 149.9 L425.5 147.7 L426.0 147.2 L428.2 146.6 L429.5 146.2 L429.2 148.3 L430.0 148.8 L428.2 150.1 L428.2 151.1 L429.9 152.1 L430.2 152.5 L432.4 152.0 L434.4 151.6 L435.8 152.6 L439.5 151.6 L442.8 151.3 L445.0 151.8 L447.0 150.4 L447.0 148.3 L447.9 146.7 L449.6 146.2 L452.3 147.4 L452.8 145.2 L451.3 143.7 L455.5 143.0 L458.8 143.0 L462.5 142.5 L459.7 141.5 L456.3 141.7 L453.6 142.2 L450.4 142.5 L447.9 141.5 L447.5 139.3 L447.5 137.3 L450.4 135.6 L453.8 133.9 L454.3 132.9 L452.4 132.6 L448.7 133.1 L447.5 134.8 L443.7 137.0 L441.2 139.0 L440.6 141.2 L443.3 142.4 L442.8 143.5 L440.0 144.9 L439.5 147.4 L438.6 148.8 L435.8 149.9 L433.6 150.1 L433.2 148.3 L431.7 146.2 L430.5 144.0 L429.5 142.5 L427.7 144.0 L425.2 145.6 L423.5 145.7 L421.1 144.2 L420.1 141.7 L420.1 139.0 L422.6 137.6 L426.0 136.5 L429.2 136.5 L428.5 135.3 L431.9 133.4 L433.2 131.8 L436.1 130.1 L437.8 128.4 L441.2 127.9 L438.6 127.5 L442.0 126.4 L443.7 126.0 L447.9 125.2 L451.3 124.3 L455.1 123.7 L458.8 123.8 L462.2 124.8 L463.9 125.0 L460.5 125.9 L463.9 126.0 L467.2 126.5 L472.3 126.9 L475.7 128.2 L480.7 130.2 L481.0 130.9 L479.0 131.9 L474.0 131.8 L469.8 131.1 L466.4 130.4 L468.1 132.3 L470.6 135.0 L474.0 135.8 L475.7 135.1 L474.0 133.9 L479.9 134.8 L479.0 132.9 L482.4 131.4 L486.1 132.3 L485.8 130.6 L484.6 127.9 L489.1 128.9 L489.1 130.7 L490.8 130.6 L494.2 129.2 L500.9 128.0 L503.4 128.6 L507.6 127.9 L512.7 127.2 L513.5 125.9 L519.4 126.7 L524.5 127.5 L523.6 128.0 L524.5 126.4 L524.1 123.8 L527.0 120.8 L529.5 120.5 L533.7 121.3 L534.2 123.8 L533.7 127.2 L532.9 130.6 L535.4 130.9 L537.1 128.0 L536.2 123.8 L537.9 121.3 L543.0 121.6 L547.2 119.6 L556.4 118.8 L558.1 117.1 L566.5 115.4 L576.6 114.9 L587.2 112.6 L590.1 113.4 L593.5 114.2 L601.9 115.4 L602.7 118.8 L591.8 120.0 L601.9 119.3 L610.3 120.1 L618.7 120.5 L624.6 119.6 L628.8 123.0 L632.2 123.8 L635.5 123.0 L642.3 123.0 L647.3 121.3 L649.0 120.8 L657.4 121.6 L664.1 122.7 L669.2 123.8 L675.9 123.8 L681.0 125.5 L682.7 126.4 L686.0 126.0 L694.4 125.5 L698.7 125.5 L697.8 127.2 L701.2 125.7 L709.6 126.4 L714.6 127.4 L723.1 129.7 L732.0 132.3 L726.4 133.9 L720.5 134.8 L716.3 133.1 L711.3 134.4 L710.4 134.8 L713.3 138.5 L706.2 139.8 L702.0 141.0 L698.3 142.5 L691.1 142.4 L689.4 142.7 L686.9 144.9 L684.3 146.1 L686.5 148.9 L684.0 150.8 L681.0 153.8 L678.8 154.1 L675.4 157.5 L673.6 154.1 L673.6 150.8 L673.7 147.4 L675.9 145.7 L680.1 143.2 L682.7 141.5 L686.0 139.5 L688.6 138.2 L681.0 139.3 L681.3 140.7 L675.9 139.5 L671.7 143.2 L665.5 143.2 L662.5 143.2 L655.7 143.5 L652.7 143.4 L647.3 146.2 L644.0 148.6 L642.3 151.6 L644.8 152.8 L649.0 153.8 L648.2 154.1 L649.5 155.8 L648.2 158.4 L648.0 161.7 L644.8 164.6 L641.4 167.6 L638.9 170.1 L635.5 171.3 L633.7 170.8 L631.7 172.2 L630.0 173.9 L630.0 174.7 L626.5 176.4 L626.3 177.2 L627.8 178.4 L629.5 181.1 L629.6 182.8 L628.8 184.3 L626.3 185.0 L624.3 185.3 L624.6 183.6 L624.6 181.4 L624.9 179.9 L622.9 179.7 L622.1 178.4 L622.6 176.9 L620.9 176.2 L617.9 177.2 L615.8 178.1 L617.0 175.2 L615.3 174.5 L612.8 176.4 L610.0 177.7 L611.1 179.4 L612.0 180.6 L614.5 179.9 L617.9 180.6 L615.3 181.9 L614.2 182.8 L612.5 184.5 L614.2 186.1 L615.3 188.7 L616.7 190.4 L616.2 192.0 L617.0 193.2 L616.2 195.4 L614.5 197.4 L613.0 200.0 L611.1 201.8 L608.6 203.8 L606.9 204.8 L603.9 205.8 L601.9 206.4 L599.4 207.2 L597.5 207.5 L597.3 209.2 L596.5 207.4 L594.3 206.9 L591.8 208.0 L590.1 209.7 L589.8 211.4 L591.8 214.8 L594.0 216.5 L595.5 219.8 L595.7 222.3 L595.1 224.0 L592.6 225.7 L591.4 226.1 L590.9 227.4 L588.4 228.7 L588.1 226.6 L585.9 225.7 L584.2 223.2 L581.7 222.0 L580.8 220.8 L580.0 221.5 L579.2 224.9 L578.7 227.4 L580.0 229.1 L580.8 231.3 L582.5 231.9 L583.7 233.0 L585.7 235.8 L585.9 238.7 L587.1 241.0 L585.7 240.9 L583.4 239.5 L582.2 238.5 L580.8 235.8 L580.5 233.3 L579.5 231.9 L577.3 230.1 L577.5 227.4 L577.6 224.9 L577.5 222.3 L576.6 219.8 L576.1 217.3 L576.0 215.6 L574.1 215.3 L572.1 216.8 L570.4 216.5 L570.7 213.9 L569.9 211.4 L568.2 209.7 L566.5 207.5 L566.2 205.7 L564.0 205.8 L561.5 206.7 L559.0 207.2 L558.1 208.5 L557.3 209.7 L555.1 210.6 L553.1 212.2 L550.2 214.8 L548.4 216.5 L546.7 217.3 L546.5 219.8 L546.8 221.5 L546.2 224.0 L546.0 226.1 L544.7 227.7 L543.3 228.4 L542.1 229.8 L540.4 228.2 L539.9 226.6 L538.8 223.7 L537.6 221.5 L536.9 219.0 L535.9 217.3 L535.1 214.8 L534.2 211.4 L534.2 208.0 L533.7 206.9 L533.2 208.0 L531.2 208.4 L530.2 208.2 L527.8 205.8 L529.8 205.5 L529.5 204.7 L527.0 203.8 L525.1 202.1 L524.5 201.6 L523.6 200.6 L520.3 201.0 L516.0 201.1 L512.7 200.8 L510.2 200.3 L508.1 200.0 L507.3 197.9 L506.5 197.6 L503.4 198.6 L500.9 197.9 L498.4 196.4 L497.2 194.6 L495.9 192.7 L494.2 192.2 L493.3 192.9 L492.5 194.1 L493.3 195.4 L494.2 197.1 L495.9 198.4 L496.2 200.5 L497.2 200.5 L497.9 199.4 L498.5 200.8 L498.0 202.5 L500.1 202.6 L502.6 202.6 L504.8 200.8 L506.6 199.1 L506.6 201.3 L507.6 203.0 L510.3 203.7 L512.3 205.5 L510.7 208.9 L509.0 211.4 L506.8 213.1 L504.6 213.9 L502.6 214.8 L499.6 216.5 L495.9 218.1 L493.3 219.8 L489.1 220.8 L487.4 221.8 L484.9 222.0 L484.4 220.7 L483.7 218.1 L483.6 215.6 L481.5 213.1 L479.9 210.6 L477.7 207.2 L476.5 203.8 L474.5 201.3 L473.1 198.8 L471.4 196.6 L470.3 195.9 L470.6 193.7 L469.3 196.6 L467.6 195.2 L466.6 193.0Z M-139.8 190.9 L-136.6 190.7 L-135.3 187.8 L-133.6 183.1 L-133.3 181.8 L-136.1 181.6 L-139.5 182.6 L-142.7 181.4 L-145.4 181.9 L-147.9 181.1 L-149.9 178.6 L-149.2 176.9 L-150.1 176.0 L-147.9 175.4 L-145.2 174.5 L-145.0 174.0 L-141.2 174.0 L-137.8 172.7 L-134.9 172.7 L-132.8 173.9 L-130.2 174.4 L-126.9 174.4 L-124.3 173.5 L-124.3 171.8 L-127.4 170.1 L-131.1 168.1 L-132.6 167.1 L-130.2 165.9 L-128.5 163.9 L-131.1 164.3 L-135.3 165.6 L-134.4 167.1 L-134.4 167.6 L-137.5 168.6 L-139.5 166.9 L-137.8 165.9 L-140.3 165.1 L-142.5 165.1 L-144.2 167.3 L-146.0 169.6 L-147.2 171.0 L-147.6 172.0 L-146.7 173.5 L-145.5 174.0 L-147.1 174.4 L-148.7 175.0 L-150.3 175.5 L-150.4 174.7 L-152.9 174.5 L-154.1 175.7 L-153.8 176.0 L-155.6 175.2 L-156.0 176.9 L-155.1 177.7 L-153.8 179.9 L-155.5 179.6 L-155.1 180.6 L-155.8 181.9 L-156.5 182.1 L-157.7 181.4 L-158.5 179.7 L-158.0 178.9 L-159.3 178.1 L-160.2 176.9 L-161.5 175.4 L-161.4 173.2 L-163.0 172.0 L-165.6 171.0 L-168.1 169.3 L-169.8 167.3 L-170.8 168.0 L-171.1 166.6 L-173.3 166.9 L-173.5 168.8 L-171.5 170.0 L-170.3 172.0 L-167.3 172.8 L-166.4 173.9 L-163.0 175.9 L-165.6 175.2 L-166.4 176.5 L-165.4 177.7 L-167.3 179.4 L-167.8 179.6 L-167.3 178.1 L-167.8 176.0 L-170.1 174.7 L-172.3 173.9 L-173.6 173.0 L-175.7 172.0 L-176.8 170.1 L-177.7 169.1 L-179.4 168.6 L-181.6 169.6 L-184.1 170.8 L-186.1 170.3 L-188.3 170.5 L-189.1 171.8 L-188.8 172.8 L-190.5 173.7 L-192.8 174.7 L-194.7 176.9 L-193.8 178.1 L-195.4 180.1 L-197.5 181.4 L-201.6 181.6 L-203.3 182.6 L-204.8 181.9 L-206.6 180.8 L-209.2 181.1 L-209.0 178.6 L-210.2 178.2 L-209.2 175.7 L-208.8 174.0 L-209.2 171.8 L-209.8 170.8 L-207.6 169.8 L-203.8 170.0 L-200.6 170.1 L-197.2 170.3 L-196.4 168.5 L-196.0 166.4 L-197.9 164.3 L-198.9 163.4 L-201.8 162.7 L-202.1 161.7 L-199.2 161.2 L-196.9 161.4 L-197.0 159.7 L-196.0 160.2 L-193.8 160.0 L-191.7 159.0 L-191.3 157.7 L-188.8 157.0 L-187.1 155.8 L-186.1 154.1 L-184.1 153.3 L-182.1 153.3 L-179.9 152.8 L-179.4 151.1 L-180.4 149.9 L-180.4 147.7 L-179.9 147.2 L-177.7 146.6 L-176.3 146.2 L-176.7 148.3 L-175.8 148.8 L-177.7 150.1 L-177.7 151.1 L-176.0 152.1 L-175.7 152.5 L-173.5 152.0 L-171.5 151.6 L-170.1 152.6 L-166.4 151.6 L-163.0 151.3 L-160.9 151.8 L-158.8 150.4 L-158.8 148.3 L-158.0 146.7 L-156.3 146.2 L-153.6 147.4 L-153.1 145.2 L-154.6 143.7 L-150.4 143.0 L-147.1 143.0 L-143.4 142.5 L-146.2 141.5 L-149.6 141.7 L-152.3 142.2 L-155.5 142.5 L-158.0 141.5 L-158.3 139.3 L-158.3 137.3 L-155.5 135.6 L-152.1 133.9 L-151.6 132.9 L-153.5 132.6 L-157.2 133.1 L-158.3 134.8 L-162.2 137.0 L-164.7 139.0 L-165.2 141.2 L-162.5 142.4 L-163.0 143.5 L-165.9 144.9 L-166.4 147.4 L-167.3 148.8 L-170.1 149.9 L-172.3 150.1 L-172.6 148.3 L-174.2 146.2 L-175.3 144.0 L-176.3 142.5 L-178.2 144.0 L-180.7 145.6 L-182.4 145.7 L-184.8 144.2 L-185.8 141.7 L-185.8 139.0 L-183.2 137.6 L-179.9 136.5 L-176.7 136.5 L-177.4 135.3 L-174.0 133.4 L-172.6 131.8 L-169.8 130.1 L-168.1 128.4 L-164.7 127.9 L-167.3 127.5 L-163.9 126.4 L-162.2 126.0 L-158.0 125.2 L-154.6 124.3 L-150.8 123.7 L-147.1 123.8 L-143.7 124.8 L-142.0 125.0 L-145.4 125.9 L-142.0 126.0 L-138.6 126.5 L-133.6 126.9 L-130.2 128.2 L-125.2 130.2 L-124.8 130.9 L-126.9 131.9 L-131.9 131.8 L-136.1 131.1 L-139.5 130.4 L-137.8 132.3 L-135.3 135.0 L-131.9 135.8 L-130.2 135.1 L-131.9 133.9 L-126.0 134.8 L-126.9 132.9 L-123.5 131.4 L-119.8 132.3 L-120.1 130.6 L-121.3 127.9 L-116.8 128.9 L-116.8 130.7 L-115.1 130.6 L-111.7 129.2 L-105.0 128.0 L-102.5 128.6 L-98.2 127.9 L-93.2 127.2 L-92.4 125.9 L-86.5 126.7 L-81.4 127.5 L-82.3 128.0 L-81.4 126.4 L-81.8 123.8 L-78.9 120.8 L-76.4 120.5 L-72.2 121.3 L-71.7 123.8 L-72.2 127.2 L-73.0 130.6 L-70.5 130.9 L-68.8 128.0 L-69.6 123.8 L-68.0 121.3 L-62.9 121.6 L-58.7 119.6 L-49.4 118.8 L-47.8 117.1 L-39.3 115.4 L-29.2 114.9 L-18.6 112.6 L-15.8 113.4 L-12.4 114.2 L-4.0 115.4 L-3.2 118.8 L-14.1 120.0 L-4.0 119.3 L4.4 120.1 L12.8 120.5 L18.7 119.6 L22.9 123.0 L26.3 123.8 L29.7 123.0 L36.4 123.0 L41.4 121.3 L43.1 120.8 L51.5 121.6 L58.3 122.7 L63.3 123.8 L70.1 123.8 L75.1 125.5 L76.8 126.4 L80.1 126.0 L88.6 125.5 L92.8 125.5 L91.9 127.2 L95.3 125.7 L103.7 126.4 L108.8 127.4 L117.2 129.7 L126.1 132.3 L120.5 133.9 L114.7 134.8 L110.4 133.1 L105.4 134.4 L104.6 134.8 L107.4 138.5 L100.3 139.8 L96.1 141.0 L92.4 142.5 L85.2 142.4 L83.5 142.7 L81.0 144.9 L78.5 146.1 L80.7 148.9 L78.1 150.8 L75.1 153.8 L72.9 154.1 L69.5 157.5 L67.7 154.1 L67.7 150.8 L67.9 147.4 L70.1 145.7 L74.3 143.2 L76.8 141.5 L80.1 139.5 L82.7 138.2 L75.1 139.3 L75.4 140.7 L70.1 139.5 L65.8 143.2 L59.6 143.2 L56.6 143.2 L49.9 143.5 L46.8 143.4 L41.4 146.2 L38.1 148.6 L36.4 151.6 L38.9 152.8 L43.1 153.8 L42.3 154.1 L43.6 155.8 L42.3 158.4 L42.1 161.7 L38.9 164.6 L35.5 167.6 L33.0 170.1 L29.7 171.3 L27.8 170.8 L25.8 172.2 L24.1 173.9 L24.1 174.7 L20.6 176.4 L20.4 177.2 L21.9 178.4 L23.6 181.1 L23.8 182.8 L22.9 184.3 L20.4 185.0 L18.4 185.3 L18.7 183.6 L18.7 181.4 L19.1 179.9 L17.0 179.7 L16.2 178.4 L16.7 176.9 L15.0 176.2 L12.0 177.2 L10.0 178.1 L11.1 175.2 L9.5 174.5 L6.9 176.4 L4.1 177.7 L5.3 179.4 L6.1 180.6 L8.6 179.9 L12.0 180.6 L9.5 181.9 L8.3 182.8 L6.6 184.5 L8.3 186.1 L9.5 188.7 L10.8 190.4 L10.3 192.0 L11.1 193.2 L10.3 195.4 L8.6 197.4 L7.1 200.0 L5.3 201.8 L2.7 203.8 L1.0 204.8 L-2.0 205.8 L-4.0 206.4 L-6.5 207.2 L-8.4 207.5 L-8.5 209.2 L-9.4 207.4 L-11.6 206.9 L-14.1 208.0 L-15.8 209.7 L-16.1 211.4 L-14.1 214.8 L-11.9 216.5 L-10.4 219.8 L-10.2 222.3 L-10.7 224.0 L-13.3 225.7 L-14.4 226.1 L-14.9 227.4 L-17.5 228.7 L-17.8 226.6 L-20.0 225.7 L-21.7 223.2 L-24.2 222.0 L-25.0 220.8 L-25.9 221.5 L-26.7 224.9 L-27.2 227.4 L-25.9 229.1 L-25.0 231.3 L-23.4 231.9 L-22.2 233.0 L-20.2 235.8 L-20.0 238.7 L-18.8 241.0 L-20.2 240.9 L-22.5 239.5 L-23.7 238.5 L-25.0 235.8 L-25.4 233.3 L-26.4 231.9 L-28.6 230.1 L-28.4 227.4 L-28.2 224.9 L-28.4 222.3 L-29.2 219.8 L-29.8 217.3 L-29.9 215.6 L-31.8 215.3 L-33.8 216.8 L-35.5 216.5 L-35.1 213.9 L-36.0 211.4 L-37.7 209.7 L-39.3 207.5 L-39.7 205.7 L-41.9 205.8 L-44.4 206.7 L-46.9 207.2 L-47.8 208.5 L-48.6 209.7 L-50.8 210.6 L-52.8 212.2 L-55.7 214.8 L-57.5 216.5 L-59.2 217.3 L-59.4 219.8 L-59.0 221.5 L-59.7 224.0 L-59.9 226.1 L-61.2 227.7 L-62.6 228.4 L-63.7 229.8 L-65.4 228.2 L-65.9 226.6 L-67.1 223.7 L-68.3 221.5 L-69.0 219.0 L-70.0 217.3 L-70.8 214.8 L-71.7 211.4 L-71.7 208.0 L-72.2 206.9 L-72.7 208.0 L-74.7 208.4 L-75.7 208.2 L-78.1 205.8 L-76.0 205.5 L-76.4 204.7 L-78.9 203.8 L-80.7 202.1 L-81.4 201.6 L-82.3 200.6 L-85.6 201.0 L-89.8 201.1 L-93.2 200.8 L-95.7 200.3 L-97.7 200.0 L-98.6 197.9 L-99.4 197.6 L-102.5 198.6 L-105.0 197.9 L-107.5 196.4 L-108.7 194.6 L-110.0 192.7 L-111.7 192.2 L-112.6 192.9 L-113.4 194.1 L-112.6 195.4 L-111.7 197.1 L-110.0 198.4 L-109.7 200.5 L-108.7 200.5 L-108.0 199.4 L-107.3 200.8 L-107.8 202.5 L-105.8 202.6 L-103.3 202.6 L-101.1 200.8 L-99.3 199.1 L-99.3 201.3 L-98.2 203.0 L-95.6 203.7 L-93.5 205.5 L-95.2 208.9 L-96.9 211.4 L-99.1 213.1 L-101.3 213.9 L-103.3 214.8 L-106.3 216.5 L-110.0 218.1 L-112.6 219.8 L-116.8 220.8 L-118.4 221.8 L-121.0 222.0 L-121.5 220.7 L-122.1 218.1 L-122.3 215.6 L-124.3 213.1 L-126.0 210.6 L-128.2 207.2 L-129.4 203.8 L-131.4 201.3 L-132.8 198.8 L-134.4 196.6 L-135.6 195.9 L-135.3 193.7 L-136.6 196.6 L-138.3 195.2 L-139.3 193.0Z M710.1 272.9 L712.1 272.7 L712.3 273.9 L710.3 274.0Z M104.2 272.9 L106.2 272.7 L106.4 273.9 L104.4 274.0Z M613.5 257.5 L616.2 257.5 L618.7 257.2 L618.4 258.1 L615.3 258.4 L613.5 258.2Z M402.1 159.0 L405.8 158.7 L408.7 158.0 L412.2 157.9 L414.1 157.2 L413.0 156.7 L414.6 154.8 L412.2 154.1 L411.9 153.1 L411.4 152.1 L409.3 150.8 L408.3 149.4 L406.7 149.1 L407.5 148.3 L408.3 147.1 L408.7 146.4 L405.8 146.2 L405.0 146.4 L406.7 144.7 L403.3 144.7 L401.9 146.6 L402.3 148.3 L402.4 149.9 L403.6 150.8 L403.3 151.1 L405.8 150.9 L406.3 152.5 L406.7 153.5 L404.1 153.6 L404.6 154.5 L404.8 155.3 L402.9 156.2 L405.8 156.7 L407.2 156.7 L404.6 157.2Z M597.7 209.7 L598.5 210.6 L596.8 212.4 L594.8 211.9 L594.6 210.6 L596.0 209.7Z M626.3 240.2 L627.1 240.0 L628.3 241.4 L628.6 242.9 L627.5 244.7 L626.8 242.9 L626.3 241.7Z M149.3 210.9 L149.5 209.7 L150.5 209.9 L150.8 210.6 L149.8 211.4Z M647.7 173.5 L648.2 171.0 L650.2 166.9 L652.4 168.8 L656.2 168.8 L656.6 170.5 L654.1 171.2 L652.9 172.7 L649.8 171.7 L648.8 172.2Z M630.8 186.8 L632.2 185.6 L634.7 183.8 L639.7 183.4 L641.9 180.8 L644.8 180.4 L646.5 178.6 L647.3 176.0 L647.8 174.0 L649.7 173.7 L650.3 176.0 L650.7 176.9 L649.0 178.9 L648.8 181.3 L648.5 183.3 L647.0 184.5 L645.3 185.0 L642.3 185.1 L641.9 185.6 L640.3 187.0 L638.9 185.6 L637.6 187.3 L635.5 187.8 L634.7 187.5 L633.9 188.2 L632.8 190.5 L631.7 191.0 L630.8 189.5 L630.2 187.8Z M401.6 155.5 L401.3 153.6 L401.9 151.6 L400.8 150.4 L398.2 150.4 L397.4 151.6 L394.9 152.1 L395.2 153.6 L395.7 154.7 L394.4 155.8 L395.2 156.7 L397.9 156.2Z M588.8 254.9 L590.9 253.5 L594.3 254.5 L598.2 254.3 L601.4 255.2 L604.4 256.5 L604.2 258.1 L598.5 257.4 L593.5 256.5 L590.9 255.7Z M244.2 127.2 L247.6 126.4 L251.0 126.7 L249.3 128.0 L245.9 128.0Z M614.5 212.2 L617.4 212.2 L617.5 215.6 L616.2 218.1 L617.0 219.8 L620.4 221.5 L620.1 221.8 L617.9 220.7 L615.3 220.3 L614.5 219.0 L613.7 216.5 L614.2 213.9Z M617.0 231.6 L619.6 229.1 L622.9 226.9 L624.4 229.9 L624.1 232.5 L622.9 233.8 L621.2 232.5 L620.4 231.1 L617.9 231.6Z M661.3 252.7 L664.1 252.0 L666.7 251.7 L668.0 250.5 L667.9 251.8 L665.8 253.5 L663.3 253.8 L661.5 253.2Z M687.7 277.2 L690.2 278.6 L692.8 280.8 L691.9 281.1 L689.4 279.8 L687.7 278.1Z M632.2 244.7 L634.7 244.1 L637.2 244.7 L637.6 247.3 L639.7 249.0 L643.1 246.4 L645.6 246.8 L649.0 247.8 L653.2 249.3 L657.1 252.2 L659.9 253.5 L660.4 254.3 L658.8 255.2 L660.8 257.7 L663.3 260.2 L665.5 260.9 L660.8 260.6 L658.3 258.2 L654.9 256.4 L653.2 258.2 L651.5 258.9 L649.0 258.9 L645.6 257.2 L644.0 257.4 L645.3 255.2 L644.0 252.7 L640.6 251.1 L637.2 250.0 L635.2 250.1 L633.9 248.1 L636.4 247.6 L633.9 246.8 L632.2 245.6Z M642.3 116.3 L650.7 115.4 L664.1 116.6 L655.7 117.4 L645.6 117.6Z M499.2 123.5 L504.3 124.3 L508.5 123.8 L505.9 120.5 L512.7 117.1 L521.1 114.9 L527.5 114.1 L522.8 113.7 L512.7 115.1 L505.9 117.1 L502.6 119.6 L498.4 122.2Z M702.4 301.3 L705.4 304.4 L707.1 305.2 L707.9 306.7 L711.8 306.9 L710.9 309.4 L709.6 309.9 L709.3 311.6 L706.7 313.5 L705.7 312.9 L706.6 311.1 L704.2 309.6 L705.7 308.2 L705.9 306.2 L703.7 303.2Z M96.5 301.3 L99.5 304.4 L101.2 305.2 L102.0 306.7 L105.9 306.9 L105.1 309.4 L103.7 309.9 L103.4 311.6 L100.8 313.5 L99.8 312.9 L100.7 311.1 L98.3 309.6 L99.8 308.2 L100.0 306.2 L97.8 303.2Z M702.4 311.6 L705.0 312.8 L704.5 314.1 L702.9 316.1 L703.0 317.2 L699.8 318.3 L699.2 320.5 L697.0 321.9 L694.9 321.9 L691.9 320.9 L692.8 319.2 L694.8 317.5 L697.8 315.8 L700.0 314.1 L701.2 312.4Z M608.9 229.3 L612.8 224.2 L613.2 225.5 L609.6 229.6Z M650.7 152.0 L652.4 154.1 L652.9 157.5 L653.7 160.4 L652.0 164.3 L653.2 165.6 L651.5 165.9 L650.7 163.4 L651.0 160.0 L650.3 156.7 L650.3 153.5Z M425.5 174.4 L428.0 174.4 L427.9 177.4 L425.8 177.7Z M627.1 248.5 L629.6 248.1 L631.8 249.0 L631.5 249.8 L628.8 249.1 L627.1 249.1Z M573.3 109.5 L580.0 107.0 L588.4 110.4 L580.0 112.0Z M432.7 179.4 L438.0 179.1 L437.1 181.6 L432.7 180.1Z M546.3 227.1 L548.4 229.1 L549.4 231.1 L548.4 232.8 L546.7 233.3 L546.0 230.8 L546.2 228.6Z M612.8 244.2 L613.7 242.1 L617.0 241.7 L622.1 240.7 L620.4 242.7 L615.3 242.6 L614.5 245.1 L617.9 245.9 L616.2 247.6 L617.9 250.1 L617.0 252.2 L615.3 249.3 L614.3 248.5 L614.2 252.7 L612.8 252.7 L612.5 249.3 L611.8 247.6Z M572.1 234.0 L575.8 234.6 L578.3 237.5 L580.8 240.0 L583.4 241.7 L585.9 243.4 L587.6 245.9 L590.1 248.5 L589.9 253.2 L587.6 253.2 L583.9 250.1 L580.8 245.9 L578.3 242.6 L575.8 239.2 L572.4 235.3Z M612.0 259.4 L614.0 259.2 L615.0 260.4 L613.3 260.6Z M608.3 257.5 L610.6 257.2 L612.1 257.9 L610.3 258.4 L608.3 258.6Z M430.2 110.4 L436.9 108.7 L445.4 107.8 L457.1 108.7 L448.7 111.5 L440.3 114.2 L435.3 112.9 L430.2 111.2Z M616.2 201.0 L617.0 202.1 L615.0 206.4 L614.0 204.7 L615.0 202.1Z M655.2 311.9 L658.3 312.6 L661.3 312.3 L661.1 314.5 L659.9 316.3 L657.8 316.7 L656.2 315.0Z M619.6 260.7 L622.1 258.6 L625.4 257.5 L625.9 257.9 L622.9 259.6 L620.4 260.9Z M617.0 223.5 L619.0 224.0 L622.4 222.3 L623.3 224.5 L622.1 226.2 L619.6 227.4 L617.9 226.6Z" fill="rgb(204,204,204)" fill-opacity="0.2" stroke="#000" stroke-width="0.8" stroke-linejoin="round"/>
<path d="M204.7 160.9 L251.5 160.9 L251.8 160.2 L261.1 162.6 L262.8 162.2 L269.0 164.6 L271.2 165.9 L272.9 167.1 L273.0 171.0 L272.0 172.3 L272.9 173.2 L278.7 171.3 L278.7 170.1 L283.0 169.0 L285.5 167.6 L291.4 167.6 L293.4 165.9 L295.2 163.6 L297.3 163.7 L297.6 166.3 L298.9 168.0 M174.4 126.2 L174.4 141.9 L177.8 142.4 L180.3 144.0 L184.5 143.2 L187.0 146.6 L191.2 149.1 L192.9 150.8 L192.1 151.3 M214.6 188.7 L218.7 188.3 L224.9 190.7 L229.6 190.7 L229.6 189.8 L232.5 189.8 L235.8 193.6 L238.4 194.6 L239.2 193.2 L241.7 193.6 L244.2 197.1 L245.1 198.9 L248.1 199.8 M256.5 219.0 L256.9 217.3 L257.7 216.5 L259.4 216.5 L258.5 214.4 L258.5 213.4 L261.6 213.4 L261.6 216.5 L262.1 216.6 M261.6 213.4 L263.1 212.2 M261.6 219.2 L263.1 217.0 M260.1 220.2 L261.2 219.2 L262.8 220.0 L263.9 220.8 M264.8 221.5 L265.8 220.2 L267.3 219.8 L269.0 218.5 L271.7 218.3 M267.5 224.7 L269.1 224.9 L270.8 225.0 M272.2 229.8 L272.2 227.4 L272.7 227.2 M291.7 223.5 L289.7 224.9 L288.8 227.9 L290.0 230.8 L293.0 231.6 L294.7 233.1 L298.1 233.0 L297.6 236.2 L298.9 240.0 L299.1 241.4 M299.1 241.4 L294.2 240.5 L295.2 242.4 L293.9 243.4 L294.7 245.4 L294.1 250.5 M294.1 250.5 L293.0 249.8 L289.7 247.4 L287.2 245.1 L285.1 243.6 M285.1 243.6 L283.0 242.9 L280.8 242.1 L279.1 241.0 M285.1 243.6 L284.6 245.9 L282.6 247.8 L280.1 249.3 L278.7 251.8 L276.6 250.6 L276.6 249.1 M294.1 250.5 L289.2 252.2 L287.3 255.7 L289.2 259.4 L292.9 259.4 L292.9 261.9 L294.7 261.9 M294.7 261.9 L296.1 264.6 L295.6 268.3 L294.7 269.5 L295.6 271.2 L294.7 272.9 L293.4 274.2 M294.7 272.9 L296.4 276.2 L296.9 279.6 L298.6 281.8 M294.7 261.9 L297.3 261.4 L301.8 259.9 L301.8 262.8 L304.8 264.4 L307.7 266.1 L310.2 266.6 L310.4 270.7 L313.6 270.8 L313.7 272.7 L314.6 273.7 L314.3 276.7 L313.7 277.2 M313.7 277.2 L312.1 275.9 L307.7 276.4 L306.3 280.8 M306.3 280.8 L303.5 280.8 L303.1 281.8 L300.3 280.1 L298.6 281.8 M298.6 281.8 L298.9 283.8 L296.4 285.5 L296.8 288.9 L294.7 291.4 L293.9 294.8 L293.6 299.0 L294.2 301.5 L293.0 304.0 L292.2 308.2 L290.9 311.6 L291.0 315.8 L291.4 319.2 L290.5 322.5 L289.7 325.9 L288.8 328.4 L290.0 330.6 L293.9 331.0 L296.6 331.6 M296.2 332.1 L296.2 335.9 M306.3 280.8 L309.0 283.5 L313.2 285.2 L314.8 286.3 L313.2 289.2 L317.5 289.4 L319.8 286.5 M313.7 277.2 L314.4 280.6 L318.0 281.0 L318.3 283.8 L320.3 284.0 L319.8 286.5 M319.8 286.5 L321.2 288.0 L321.2 289.2 L317.8 291.1 L314.8 294.3 M314.8 294.3 L313.7 298.1 L313.4 300.7 M314.8 294.3 L317.5 295.3 L320.0 296.4 L321.8 298.5 L321.8 300.2 M299.1 241.4 L301.5 242.1 L304.0 240.9 L303.7 239.2 L305.0 239.7 L303.1 236.7 L306.0 237.0 L307.4 236.3 L309.5 235.3 L309.5 234.6 M309.5 234.6 L308.4 233.5 L308.9 232.1 L310.2 231.4 L309.5 230.6 L310.7 229.1 M309.5 234.6 L310.9 235.0 L310.7 238.9 L311.6 240.5 L312.7 241.4 L316.6 240.2 M315.6 233.3 L315.3 234.5 L314.1 236.7 L315.3 237.8 L316.6 240.2 M316.6 240.2 L317.6 239.5 L319.8 239.5 M320.8 233.6 L320.1 235.0 L320.5 237.0 L319.8 239.5 M319.8 239.5 L322.7 239.7 L323.7 238.0 L324.7 236.3 M408.0 184.3 L408.8 187.0 L409.7 189.2 L405.8 190.4 L403.3 192.9 L397.1 195.1 L397.1 196.8 M397.1 196.8 L389.5 196.8 M397.1 196.8 L397.1 199.6 L391.5 199.6 L391.5 203.8 L389.8 204.7 L389.8 207.5 L383.1 207.5 M397.1 197.4 L403.6 201.3 M403.6 201.3 L400.8 201.3 L402.4 215.6 L402.8 217.3 L392.3 217.3 L391.2 218.5 M391.2 218.5 L387.3 215.4 L383.9 216.5 M403.6 201.3 L413.7 207.9 L413.7 208.7 L417.1 210.1 L417.3 211.4 L418.8 211.2 M418.8 211.2 L421.5 210.6 L424.3 208.4 L431.9 203.8 M431.9 203.8 L428.5 202.1 L427.7 199.1 L428.4 196.2 L427.7 192.5 M427.7 192.5 L426.8 189.5 L424.3 186.5 L425.7 185.0 L426.2 181.3 M427.7 192.5 L429.0 191.4 L429.0 189.8 L431.1 188.7 L431.1 187.5 M453.8 190.0 L453.8 206.4 L453.8 209.7 L452.1 209.7 L452.1 210.6 L438.6 204.0 L436.9 204.7 L435.6 205.3 L431.9 203.8 M453.8 206.4 L473.8 206.4 M436.9 204.7 L437.8 208.0 L437.8 215.1 L434.4 218.5 L434.4 220.3 M434.4 220.3 L431.9 221.2 L426.8 221.8 L423.5 221.5 L419.3 220.3 L417.8 223.7 M418.8 211.2 L418.8 215.1 L417.6 217.5 L413.4 218.1 L412.0 218.1 M412.0 218.1 L413.4 220.8 L415.6 222.7 L415.7 223.4 L417.8 223.7 M412.0 218.1 L408.3 219.5 L405.0 221.0 L402.8 223.5 L402.4 225.9 M402.4 225.9 L398.2 226.2 L397.4 224.0 L394.9 222.9 L392.5 222.5 L391.2 218.5 M392.5 222.5 L388.6 222.2 L383.6 222.5 M383.4 220.3 L386.5 220.2 L388.5 220.8 L386.5 221.2 L383.4 221.3 M388.6 222.2 L388.6 223.7 L386.5 224.9 M389.3 228.2 L392.3 226.6 L393.7 227.7 L394.4 229.1 M394.4 229.1 L395.9 229.3 L396.0 230.8 L397.4 230.6 M394.4 229.1 L392.3 231.8 M397.4 230.6 L397.7 232.5 L399.1 233.6 L399.1 236.0 M397.4 230.6 L398.7 229.3 L398.2 226.2 M407.0 234.8 L406.3 231.9 L407.5 229.6 L407.0 227.4 M407.0 227.4 L404.5 227.1 L402.4 225.9 M407.0 227.4 L407.0 224.9 L411.4 224.7 M413.7 233.1 L412.7 230.8 L412.5 227.4 L411.4 224.7 M414.4 233.0 L414.4 228.2 L413.0 226.1 L413.2 224.9 L415.7 223.4 M411.4 224.7 L413.2 224.9 M416.2 232.6 L416.2 228.2 L417.8 225.7 L417.8 223.7 M426.0 235.7 L427.4 232.8 L430.2 232.1 L431.9 230.8 L433.9 227.4 L435.6 224.4 L436.1 221.8 L435.3 221.3 L434.4 220.3 M435.3 221.3 L436.9 223.2 L437.1 225.7 L435.3 226.6 L437.8 230.8 M437.8 230.8 L441.2 230.3 L443.7 228.2 L447.0 227.1 L450.2 225.0 M450.2 225.0 L449.2 221.5 L451.4 217.0 L452.1 217.0 L452.1 210.6 M437.8 230.8 L436.1 234.1 L436.9 237.2 L439.0 239.7 M439.0 239.7 L434.1 239.7 L428.2 239.5 M434.1 239.7 L435.9 241.2 L435.3 244.2 L436.1 247.1 L433.2 246.8 L431.1 248.1 L430.4 250.0 M428.2 241.7 L430.7 241.7 L430.7 239.7 M439.0 239.7 L439.5 237.8 L443.0 237.5 M443.0 237.5 L442.0 240.0 L441.7 244.2 L439.0 247.1 L438.6 249.3 L437.3 250.6 L435.9 251.7 L433.6 251.1 L432.2 253.2 M443.0 237.5 L444.5 235.0 L449.4 236.5 L453.3 235.0 L457.8 235.0 M450.2 225.0 L451.6 228.7 L454.1 230.8 L457.8 235.0 M451.6 228.7 L452.1 228.2 L456.3 227.4 L458.8 227.7 L462.2 226.1 L466.4 223.2 L467.6 225.4 L468.9 227.4 M468.9 227.4 L469.8 225.2 L470.9 223.2 L472.6 221.8 L473.1 219.3 M473.1 219.3 L474.0 214.8 L476.7 213.1 M473.1 219.3 L476.5 219.2 L479.0 219.0 L483.1 222.3 M483.1 222.3 L482.0 224.9 L483.9 224.9 L484.4 224.0 M483.9 224.9 L484.1 227.4 L487.4 229.1 L492.5 229.9 L487.4 235.0 L482.4 236.5 M482.4 236.5 L478.7 237.3 L475.7 237.3 L472.3 236.0 M472.3 236.0 L471.1 234.3 L468.9 232.5 L467.2 230.3 L468.9 227.4 M482.4 236.5 L480.7 238.7 L480.7 243.4 L481.5 246.3 M472.3 236.0 L468.9 236.3 L469.9 241.4 L468.9 243.1 L468.9 245.1 M468.9 245.1 L475.1 248.8 L477.7 251.3 M468.9 236.3 L463.9 237.2 L463.5 239.5 L461.7 242.6 L461.5 245.8 M457.8 235.0 L461.3 235.8 L463.9 237.2 M468.9 245.1 L463.0 245.1 L461.5 245.8 M463.0 245.1 L463.5 247.4 L463.0 249.3 L461.3 251.0 M461.5 245.8 L460.5 248.1 L461.0 250.8 L461.5 254.3 L463.4 257.2 M460.5 248.1 L463.5 247.4 M463.4 257.2 L460.3 257.7 L459.5 259.1 L459.8 261.9 L461.3 264.3 L459.7 266.0 L457.5 263.3 L454.3 262.3 L452.1 261.9 L452.1 265.3 L448.7 265.3 L448.7 270.7 L451.1 273.0 M452.1 261.9 L449.1 262.3 L448.4 259.4 L448.4 255.7 L444.5 255.2 L444.4 256.9 L441.2 257.0 L439.6 253.3 L433.6 253.3 L432.2 253.5 M463.4 257.2 L467.1 259.2 L468.9 259.4 L469.8 262.8 M469.8 262.8 L472.3 262.9 L476.5 262.4 L479.7 261.1 M467.1 259.2 L467.6 263.6 L466.7 266.3 L467.6 267.0 M469.8 262.8 L470.3 266.1 L472.1 268.5 L471.1 271.9 L469.4 270.7 L469.8 267.8 L467.6 267.0 M467.6 267.0 L462.9 268.7 L462.9 269.7 M462.9 269.7 L460.3 270.3 L457.1 273.5 L454.3 273.4 L451.1 273.0 M462.9 269.7 L467.1 271.5 L466.9 275.4 L466.4 279.3 L464.4 281.1 M464.4 281.1 L461.2 280.8 L458.2 277.9 L454.3 273.4 M461.2 280.8 L457.0 283.3 L454.6 286.7 L450.4 286.0 L446.7 288.5 L445.4 285.2 M445.4 291.2 L445.4 280.4 L447.0 280.4 L447.0 274.2 L451.1 273.0 M445.4 291.2 L441.2 291.9 L439.5 291.6 M431.6 272.4 L434.4 272.0 L435.6 272.7 L442.8 272.7 L447.0 273.7 L451.1 273.0 M464.4 281.1 L465.6 284.7 L465.6 287.0 L467.1 288.5 M459.3 291.6 L461.0 292.7 L460.2 294.6 L458.2 294.4 L457.3 293.1 L459.3 291.6 M465.6 287.0 L463.9 287.2 L463.7 288.9 L465.6 288.7 M396.9 172.8 L400.6 172.8 L400.1 174.4 L400.1 176.9 L399.2 176.7 L399.9 179.1 L399.2 180.8 M408.7 170.3 L412.9 171.5 L417.1 172.0 M424.3 169.6 L423.5 168.1 L423.3 166.3 L422.1 165.4 L424.5 163.2 L425.5 160.9 L422.5 160.0 L421.5 160.0 L418.8 159.2 L415.9 157.3 M417.4 156.8 L420.1 156.8 L421.5 157.3 L421.8 157.9 L422.0 156.2 L423.1 155.5 L423.6 153.6 M422.5 160.0 L422.0 158.9 L421.8 157.9 M423.3 166.3 L426.0 165.6 L427.4 165.3 L429.2 164.9 L432.2 164.3 L434.8 165.1 L434.8 166.6 M424.5 163.2 L427.9 163.4 L429.2 164.9 M427.9 163.4 L433.6 163.4 L434.9 161.4 L432.2 158.9 L436.6 157.5 L436.3 154.1 L435.8 152.6 M426.3 150.9 L428.2 151.1 M436.6 157.5 L439.5 158.7 L443.3 160.0 L445.4 160.5 L449.6 160.7 L452.1 158.4 L451.4 156.7 L451.3 154.1 L451.3 152.5 L450.1 151.8 L445.0 151.8 M434.9 161.4 L436.9 160.9 L440.3 161.6 L443.3 160.0 M440.3 161.6 L440.5 162.9 L439.0 164.4 L434.8 165.1 M450.1 151.8 L449.6 150.8 L447.4 150.3 M451.3 152.5 L455.0 152.1 L456.5 149.8 L459.2 148.9 L458.0 146.6 L457.8 144.4 L458.8 143.2 M447.0 148.9 L452.9 148.6 L456.5 149.8 M452.6 145.9 L455.5 146.1 L458.0 146.6 M458.5 141.5 L462.2 139.0 L464.7 137.5 L462.2 135.6 L462.2 132.3 L460.5 129.4 L459.7 127.4 L460.5 127.0 L463.5 125.9 M446.4 127.0 L451.3 127.7 L455.0 126.9 L455.5 125.5 L458.8 125.5 L460.5 127.0 M446.4 127.0 L451.3 129.7 L452.4 132.6 M446.4 127.0 L442.0 128.0 L438.6 130.6 L436.1 132.1 L435.3 134.8 L432.2 136.5 L432.2 139.8 L433.2 140.7 L431.6 143.2 L430.5 144.0 M451.4 156.7 L457.1 156.7 L463.0 157.0 L465.2 155.7 L468.9 155.3 L471.4 158.5 L475.7 159.4 L479.0 159.9 L478.5 162.7 L476.0 164.1 M459.2 148.9 L463.5 149.9 L463.9 152.5 L466.4 153.6 L465.2 155.7 M449.6 160.7 L449.1 161.9 L450.2 162.6 L453.6 163.1 L456.5 162.2 L459.2 162.2 L460.8 162.7 L462.2 165.3 L460.3 165.3 L459.2 166.8 L461.7 167.3 M456.5 162.2 L459.0 164.4 L459.2 166.8 M440.5 162.9 L443.3 162.9 L446.2 161.7 L449.1 161.9 M450.2 162.6 L447.4 165.3 L445.9 165.8 L443.3 166.1 L439.5 165.1 L439.0 164.4 M445.9 165.8 L447.7 168.0 L449.6 168.3 L449.9 169.0 L450.2 169.6 L454.6 170.0 L457.5 169.1 L459.8 169.8 M449.9 169.0 L449.4 172.2 L450.2 173.9 L452.9 173.5 L456.0 173.2 L458.8 172.7 M456.0 173.2 L455.5 174.7 M450.2 173.9 L447.0 174.5 L445.7 176.7 M444.4 172.8 L446.2 172.3 L446.4 174.4 L447.0 174.5 M449.4 172.2 L446.4 172.7 L446.2 172.3 M434.6 166.8 L438.1 165.6 L439.5 165.1 M438.3 167.3 L443.7 167.6 L444.4 170.1 L442.8 171.8 M438.3 167.3 L438.6 169.3 L441.3 171.0 L442.8 171.8 M443.7 167.6 L443.7 166.1 M444.4 170.1 L446.2 171.2 L446.2 172.3 M472.3 182.9 L473.5 181.4 L475.7 181.4 L480.4 180.9 L483.1 180.9 L487.1 180.8 L486.4 177.1 L487.1 176.5 L485.2 175.9 L484.9 174.2 L481.5 173.5 M479.0 170.3 L483.2 170.7 L485.8 171.7 L490.0 172.8 L493.5 173.0 M484.9 174.2 L487.4 173.9 L490.0 172.8 M487.4 173.9 L490.0 176.9 L490.0 177.9 M487.1 176.5 L490.0 177.9 L492.5 176.9 L494.0 178.7 M483.1 180.9 L481.0 184.8 L477.0 187.2 L473.6 189.0 L472.0 188.3 L472.1 187.0 L473.3 185.8 L472.3 185.1 M472.0 188.3 L471.4 190.4 L470.6 193.7 M469.3 190.7 L470.4 193.7 M470.6 193.7 L472.5 194.2 L474.8 192.9 L475.7 192.0 L474.0 190.4 L477.7 189.2 L477.0 187.2 M477.7 189.2 L482.4 191.0 L486.9 194.2 L490.0 194.4 L491.6 192.9 L492.5 192.9 M490.0 194.4 L492.0 195.4 L493.2 195.4 M487.1 180.8 L489.1 183.1 L488.3 185.3 L489.1 187.8 L492.1 189.8 L492.0 191.2 L493.3 192.9 M483.7 215.8 L484.4 214.1 L486.1 214.1 L490.8 214.8 L494.2 212.1 L499.2 211.4 L504.3 209.7 L505.3 206.4 L504.6 205.2 L500.2 204.8 L498.5 202.6 M504.6 205.2 L505.6 202.6 L506.6 201.3 M499.2 211.4 L501.1 215.4 M502.4 180.6 L505.9 179.2 L508.1 179.1 L511.5 180.2 L514.7 181.8 L513.7 185.6 L514.2 190.4 L515.7 190.7 L514.2 193.2 L515.9 195.4 L517.4 195.9 L517.4 197.6 L518.2 198.6 L515.4 201.0 M514.2 193.2 L519.4 193.9 L523.3 193.0 L524.0 190.9 L528.3 189.7 L529.5 186.6 L531.4 186.0 L532.2 182.1 L537.8 180.8 M514.7 181.8 L514.9 183.4 L517.7 183.8 L520.3 182.3 L523.6 180.4 L525.8 180.8 L528.3 180.9 L529.8 179.6 L531.7 178.9 L532.0 181.4 L535.1 180.4 L537.8 180.8 M526.5 203.5 L531.2 202.3 L529.5 197.1 L534.4 193.9 L537.1 191.2 L537.1 188.3 L536.2 186.1 L541.3 183.6 L542.6 183.6 M537.8 180.8 L539.6 182.8 L542.6 183.6 L544.2 185.6 L544.7 188.7 L544.2 190.7 L548.0 192.5 L552.2 194.2 L556.4 196.2 L560.0 196.4 L561.3 197.4 L562.8 195.9 L565.9 196.6 L569.9 194.6 L573.3 193.9 L575.5 195.9 M548.0 192.5 L546.3 194.9 L551.4 197.3 L556.1 198.6 L560.0 198.9 L560.0 196.4 M561.3 197.4 L562.8 198.4 L566.5 198.3 L565.9 196.6 M575.5 195.9 L571.9 198.8 L570.9 201.3 L568.7 203.0 L568.7 206.0 L567.5 207.5 L567.0 208.5 M561.5 206.7 L561.2 203.0 L560.0 202.0 L560.5 198.9 L562.8 199.8 L562.8 201.0 L567.2 201.3 L565.2 203.0 L565.7 204.7 L567.0 203.5 L567.5 207.5 M575.5 195.9 L577.8 197.1 L577.8 200.0 L576.0 202.3 L578.1 204.3 L579.3 206.2 L582.0 207.7 L580.2 209.0 L576.6 210.2 L575.6 212.2 L577.8 216.0 L577.0 218.1 L578.7 222.2 L577.8 226.2 M580.2 209.0 L580.8 210.6 L582.2 210.6 L581.7 213.9 L583.5 212.8 L586.7 212.6 L587.9 215.6 L589.3 217.0 L588.8 219.3 L585.0 219.3 L584.0 220.7 L584.9 223.7 M583.7 205.7 L585.0 208.4 L587.7 209.0 L586.7 210.6 L588.8 212.2 L591.1 214.9 L592.5 217.3 L592.6 218.6 L592.6 222.7 L590.1 223.7 L589.8 225.0 L587.6 225.9 M588.8 219.3 L590.1 219.3 L592.6 218.6 M582.0 207.7 L583.0 205.7 L583.7 205.7 L586.6 205.2 L588.9 204.2 L591.3 205.0 L591.1 206.4 L593.5 207.2 M580.2 232.5 L581.9 233.8 L583.5 233.0 M596.2 240.0 L596.8 241.7 L599.4 241.7 L601.9 241.0 L604.4 240.9 L606.1 238.3 L606.9 236.2 L609.6 236.3 M649.0 247.8 L649.0 258.7 M559.5 160.5 L563.2 162.9 L564.9 166.8 L571.6 168.8 L574.1 171.3 L581.7 171.7 L588.4 173.2 L596.8 171.5 L600.2 169.6 L600.0 167.6 L602.9 168.0 L606.9 166.4 L611.1 164.8 L613.3 164.8 L610.0 162.9 L606.6 162.9 L608.1 159.5 M559.5 160.5 L566.5 157.9 L570.7 159.2 L576.6 158.4 L577.1 155.8 L579.2 155.8 L583.7 157.0 L583.9 158.2 L591.8 159.2 L594.3 160.2 L601.0 160.0 L604.4 158.9 L608.1 159.5 L612.3 158.9 L615.0 155.8 L614.5 154.1 L619.6 153.3 L622.9 154.1 L626.3 158.7 L631.3 161.1 L632.2 163.1 L638.4 162.1 L635.9 167.3 L632.7 167.8 L632.5 171.0 L631.5 172.0 M631.5 172.0 L630.2 171.0 L627.1 172.7 L625.1 173.2 L620.9 176.2 M624.9 179.7 L627.8 178.4 M558.6 160.7 L556.1 161.9 L555.6 164.1 L551.4 163.9 L550.5 167.1 L546.8 167.6 L547.7 170.7 L546.7 172.3 L543.6 173.7 L541.1 174.4 L536.2 175.9 L535.7 176.9 L537.9 180.4 M546.7 172.3 L539.6 171.2 L535.4 171.0 L535.4 172.0 L531.5 171.3 L531.2 172.2 L526.1 174.4 L523.6 174.2 L522.8 172.0 L522.8 171.0 L520.3 170.0 L516.0 170.1 L514.4 168.6 L510.2 166.6 L505.9 167.6 L505.9 173.9 L502.6 172.2 L500.1 173.0 M505.9 173.9 L507.6 173.9 L510.2 171.5 L512.7 172.3 L512.7 174.0 L515.9 174.2 L516.7 176.0 L520.1 177.9 L523.6 180.4 M558.6 160.7 L555.1 159.9 L551.4 157.5 L546.3 157.9 L542.8 153.6 L535.2 152.6 L531.2 150.3 L527.8 150.3 L521.4 152.0 L514.4 152.6 L515.2 154.3 L512.7 157.9 L510.2 157.3 L505.4 158.2 L503.4 157.5 L500.1 156.7 L497.2 156.3 L493.7 158.2 L490.8 158.7 L490.0 161.9 L491.3 163.1 L492.8 163.1 L494.2 165.3 M535.7 176.9 L530.4 176.7 L528.3 174.9 L531.2 172.2 M525.8 180.8 L526.8 179.1 L525.3 176.9 L528.3 174.9" fill="none" stroke="#000" stroke-width="0.75" stroke-linejoin="round"/>
<path d="M532.9 131.4 L527.0 131.4 L522.8 132.6 L521.9 134.8 L523.6 137.3 L527.8 140.7 L534.6 140.3 L541.3 141.0 L546.3 144.0 L550.5 147.4 L551.4 149.9 M549.7 123.0 L553.9 125.0 L557.3 126.7 L558.1 129.7 L560.1 132.6 L563.2 135.6 L564.0 139.0 M602.7 118.8 L596.8 118.4 L590.1 120.1 L583.4 122.2 M625.4 121.6 L624.6 124.7 L621.2 128.0 L619.6 130.9 L623.8 135.0 L629.6 137.0 L630.0 139.0 L623.8 140.7 L615.3 141.5 L606.9 142.4 L602.7 142.9 M623.8 135.0 L618.7 135.8 L615.3 136.0 M629.6 137.0 L635.5 137.0 L639.7 139.0 L642.3 141.0 M638.4 162.1 L641.4 159.2 L643.1 158.0 L646.5 155.8 L648.2 154.1 M476.5 144.9 L482.4 146.7 L487.4 148.6 L494.2 149.9 L494.7 152.1 L493.3 153.1" fill="none" stroke="#000" stroke-width="0.55" stroke-linejoin="round"/>
<path d="M490.8 166.8 L494.2 164.8 L498.4 164.4 L500.9 165.1 L500.9 167.1 L497.9 168.5 L496.4 168.8 L497.5 170.7 L500.4 171.7 L500.1 173.0 L502.2 174.7 L500.9 176.9 L502.4 177.9 L502.4 180.6 L499.2 181.6 L496.4 180.6 L494.2 180.1 L494.0 178.7 L494.7 177.2 L495.0 175.0 L493.5 173.0 L491.6 171.0 L491.6 168.8Z M509.8 168.5 L511.0 165.9 L514.4 164.8 L515.7 166.8 L513.5 169.3 L511.0 169.8Z M586.4 156.7 L589.3 154.7 L593.5 152.0 L596.0 149.4 L596.8 150.3 L595.1 153.3 L590.9 155.8 L587.6 157.0Z M535.4 167.1 L537.9 164.8 L541.3 164.8 L544.7 165.1 L543.8 165.9 L538.8 166.3 L536.2 167.8Z M465.2 244.2 L467.2 242.7 L469.4 243.4 L468.9 245.9 L467.2 248.1 L465.6 247.6 L465.1 245.4Z M461.0 249.1 L461.7 251.8 L462.9 254.9 L464.2 257.9 L463.0 257.4 L461.5 254.3 L460.7 251.0Z M468.9 259.6 L470.1 261.9 L470.4 265.0 L470.9 267.5 L469.9 267.3 L469.4 264.4 L469.1 261.9Z M256.9 164.8 L260.2 162.9 L262.8 161.4 L267.0 162.2 L269.0 164.6 L266.1 165.1 L263.6 163.9 L260.2 164.9Z M263.9 172.7 L263.8 169.3 L265.3 166.8 L267.8 165.9 L268.6 166.8 L266.6 169.3 L266.6 172.2 L265.3 173.2Z M269.5 165.9 L273.7 165.6 L277.1 167.6 L276.2 168.3 L274.2 168.0 L274.2 170.5 L272.9 171.0 L271.2 169.6 L271.5 167.6Z M271.3 173.2 L273.7 172.0 L278.7 171.2 L278.9 171.7 L275.4 173.3 L272.5 173.7Z M277.4 170.5 L280.4 169.5 L283.5 169.1 L283.3 170.1 L280.4 170.5Z M201.3 133.4 L204.7 131.8 L209.7 130.6 L213.1 131.8 L209.7 133.9 L205.5 134.1Z M214.8 140.7 L218.2 138.5 L223.2 137.6 L227.4 137.6 L224.9 139.0 L220.7 140.3 L217.3 141.0Z M245.4 152.8 L247.1 152.6 L248.8 155.3 L249.6 158.4 L248.4 158.5 L247.6 155.8 L245.4 153.8Z M462.5 142.4 L463.9 139.8 L466.9 140.3 L466.4 142.0Z M469.8 140.7 L470.6 138.2 L472.8 139.3 L472.0 140.8Z" fill="#fff" fill-opacity="0.2" stroke="#000" stroke-width="0.6" stroke-linejoin="round"/>
</g>
<rect x="100.5" y="97.4" width="620" height="299" fill="none" stroke="#000" stroke-width="1.25"/>
<rect x="100.5" y="468.5" width="620" height="30.5" fill="url(#jet)" stroke="#000" stroke-width="1.0"/>
<line x1="165.51" y1="493" x2="165.51" y2="499" stroke="#000" stroke-width="0.8"/>
<line x1="231.07" y1="493" x2="231.07" y2="499" stroke="#000" stroke-width="0.8"/>
<line x1="296.63" y1="493" x2="296.63" y2="499" stroke="#000" stroke-width="0.8"/>
<line x1="362.20" y1="493" x2="362.20" y2="499" stroke="#000" stroke-width="0.8"/>
<line x1="427.76" y1="493" x2="427.76" y2="499" stroke="#000" stroke-width="0.8"/>
<line x1="493.32" y1="493" x2="493.32" y2="499" stroke="#000" stroke-width="0.8"/>
<line x1="558.89" y1="493" x2="558.89" y2="499" stroke="#000" stroke-width="0.8"/>
<line x1="624.45" y1="493" x2="624.45" y2="499" stroke="#000" stroke-width="0.8"/>
<line x1="690.01" y1="493" x2="690.01" y2="499" stroke="#000" stroke-width="0.8"/>
</svg>
<div class="t title">Nequick-Galileo VTEC : 22 Hour of 157 DOY [2019/06/06]</div>
<div class="t tick" style="left:135.51px">0.4</div>
<div class="t tick" style="left:201.07px">0.8</div>
<div class="t tick" style="left:266.63px">1.2</div>
<div class="t tick" style="left:332.20px">1.6</div>
<div class="t tick" style="left:397.76px">2.0</div>
<div class="t tick" style="left:463.32px">2.4</div>
<div class="t tick" style="left:528.89px">2.8</div>
<div class="t tick" style="left:594.45px">3.2</div>
<div class="t tick" style="left:660.01px">3.6</div>
<div class="t lab">VTEC</div>
<div class="t exp">1e17</div>
</body></html>
